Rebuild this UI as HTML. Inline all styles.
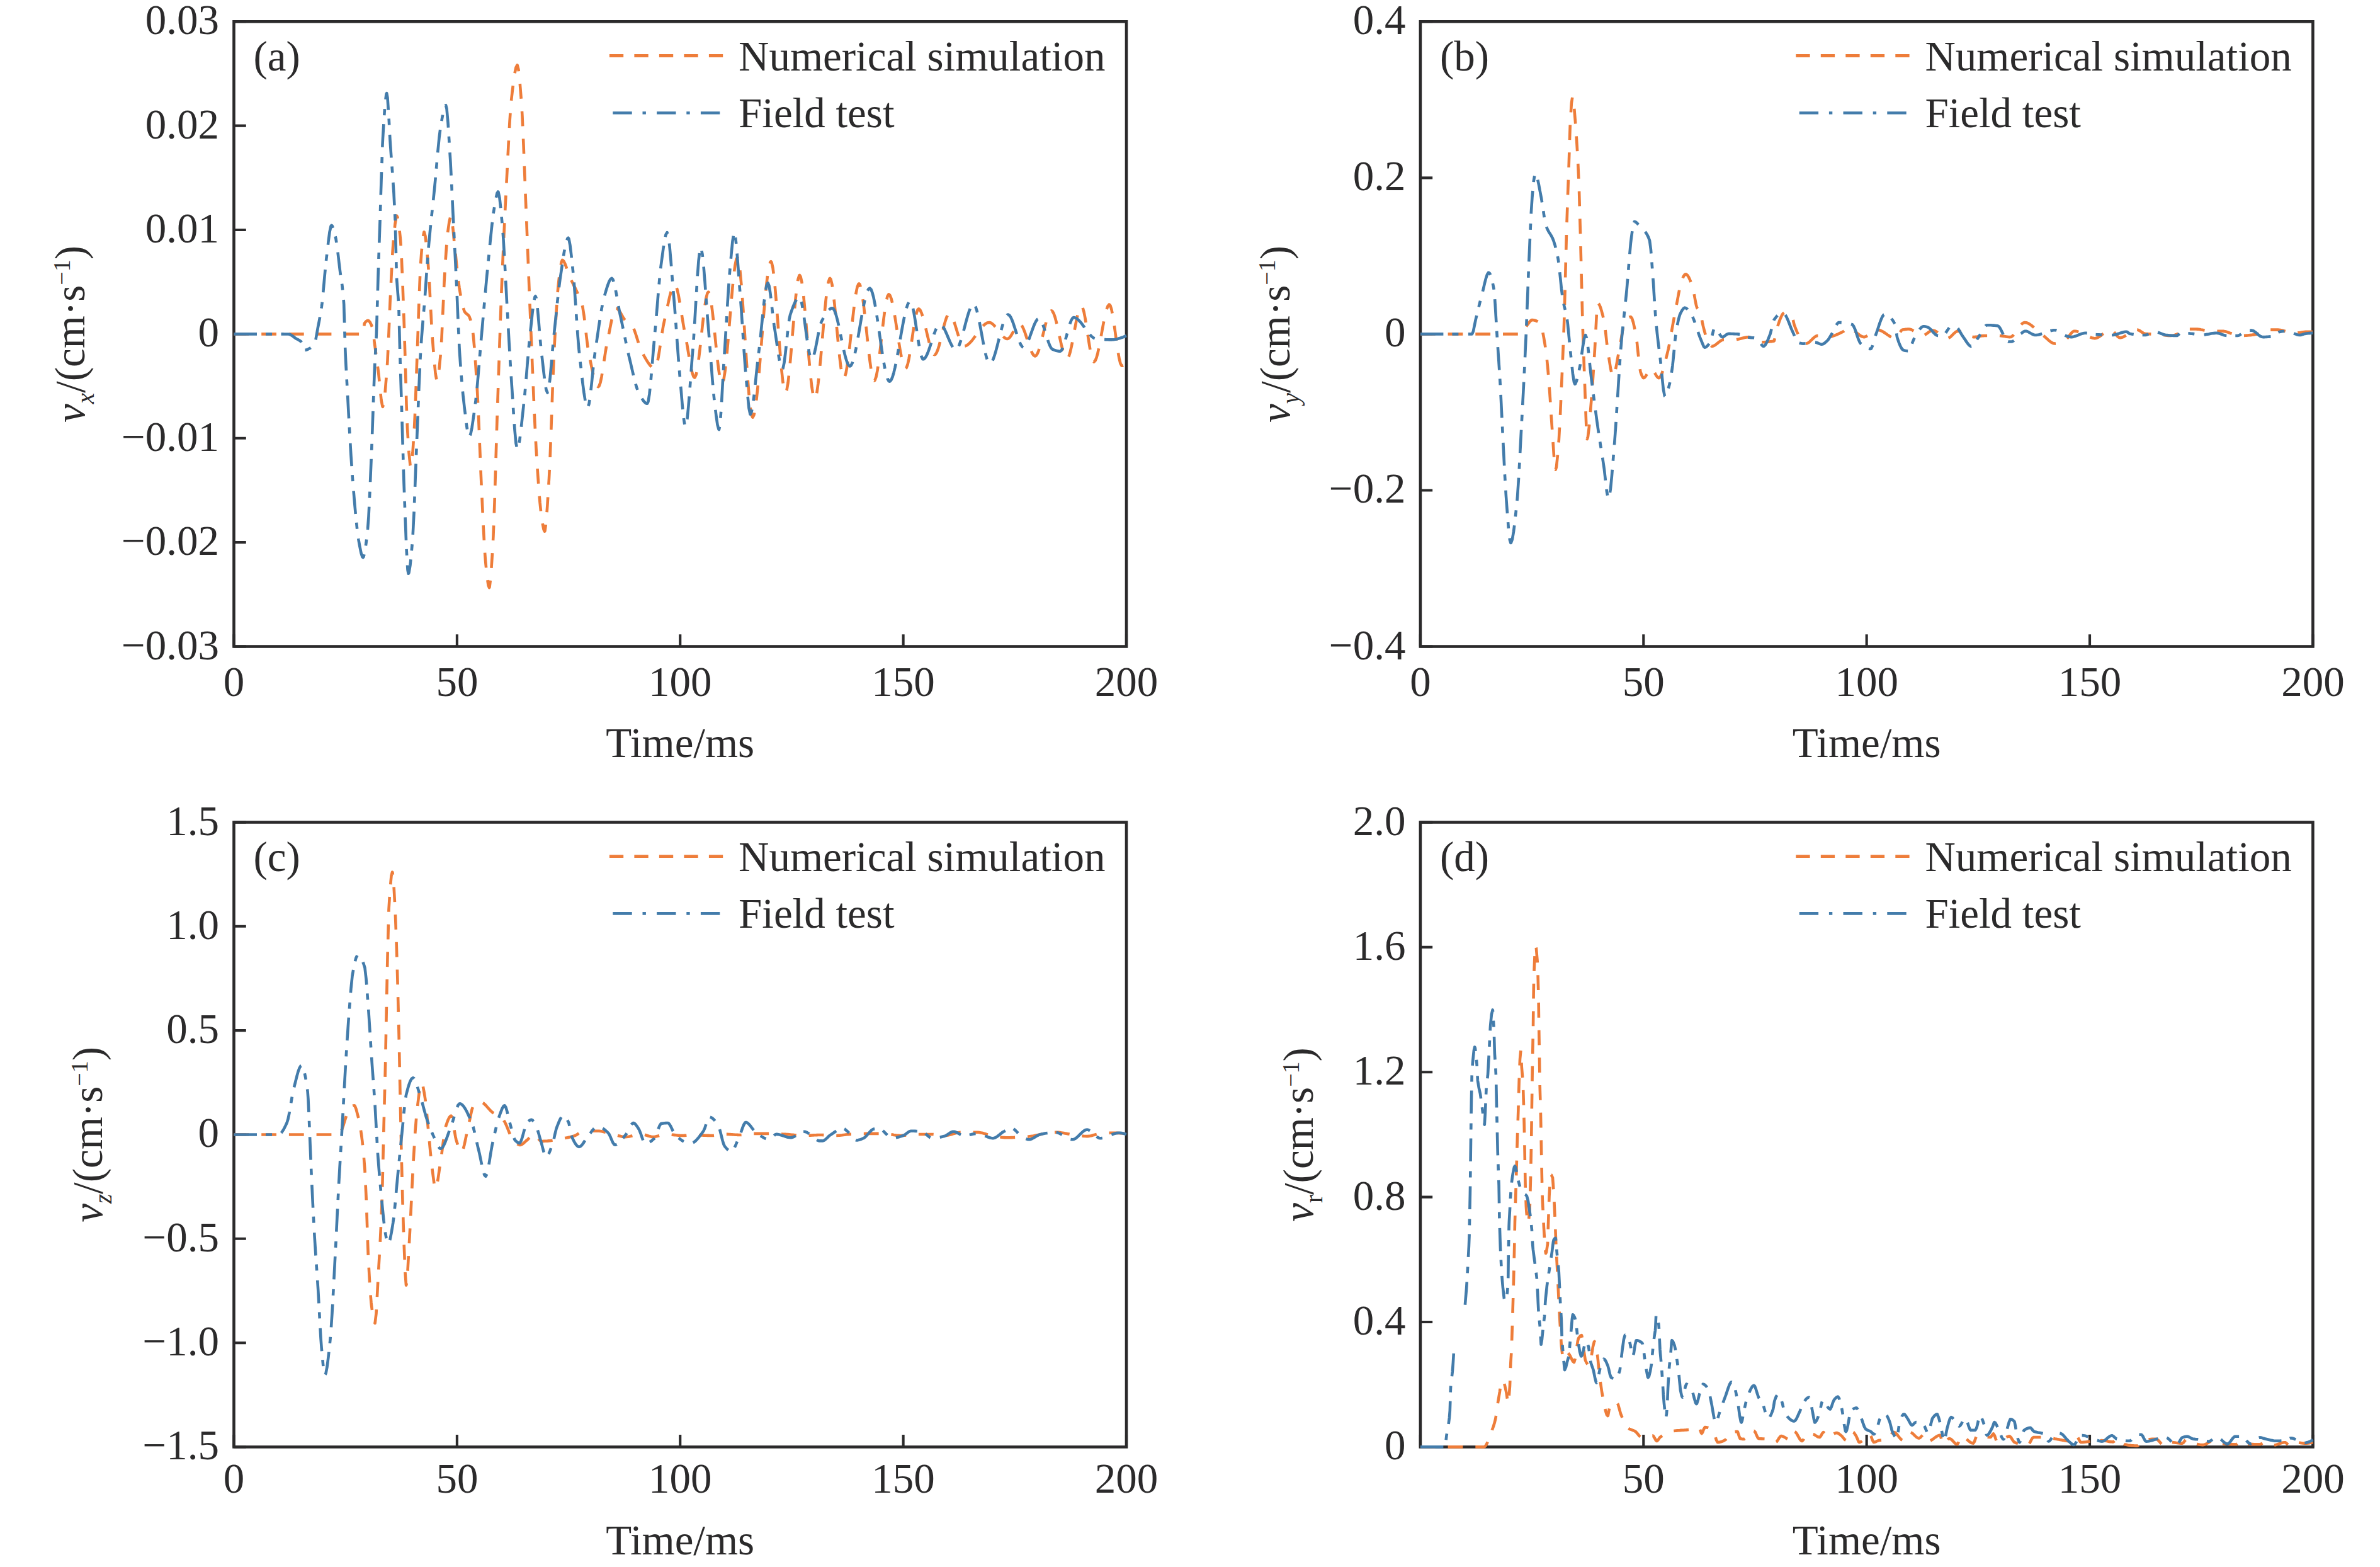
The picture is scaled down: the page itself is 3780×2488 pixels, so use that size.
<!DOCTYPE html><html><head><meta charset="utf-8"><style>html,body{margin:0;padding:0;background:#fff;}svg{display:block;}text{font-family:"Liberation Serif","Times New Roman",serif;fill:#2b2a2b;}</style></head><body>
<svg width="3780" height="2488" viewBox="0 0 3780 2488">
<rect width="3780" height="2488" fill="#fff"/>
<rect x="371.5" y="34.3" width="1417.5" height="992.2" fill="none" stroke="#2b2a2b" stroke-width="4.6"/>
<path d="M371.50,1026.50V1007.20M725.88,1026.50V1007.20M1080.25,1026.50V1007.20M1434.62,1026.50V1007.20M1789.00,1026.50V1007.20M371.50,1026.50H390.80M371.50,861.13H390.80M371.50,695.77H390.80M371.50,530.40H390.80M371.50,365.03H390.80M371.50,199.67H390.80M371.50,34.30H390.80" stroke="#2b2a2b" stroke-width="4.1" fill="none"/>
<g><polyline points="371.5,530.4 373.5,530.4 375.5,530.4 377.5,530.4 379.5,530.4 381.5,530.4 383.5,530.4 385.5,530.4 387.5,530.4 389.5,530.4 391.5,530.4 393.5,530.4 395.5,530.4 397.5,530.4 399.5,530.4 401.5,530.4 403.5,530.4 405.5,530.4 407.5,530.4 409.5,530.4 411.5,530.4 413.5,530.4 415.5,530.4 417.5,530.4 419.5,530.4 421.5,530.4 423.5,530.4 425.5,530.4 427.5,530.4 429.5,530.4 431.5,530.4 433.5,530.4 435.5,530.4 437.5,530.4 439.5,530.4 441.5,530.4 443.5,530.4 445.5,530.4 447.5,530.4 449.5,530.4 451.5,530.4 453.5,530.4 455.5,530.4 457.5,530.4 459.5,530.4 461.5,530.4 463.5,530.4 465.5,530.4 467.5,530.4 469.5,530.4 471.5,530.4 473.5,530.4 475.5,530.4 477.5,530.4 479.5,530.4 481.5,530.4 483.5,530.4 485.5,530.4 487.5,530.4 489.5,530.4 491.5,530.4 493.5,530.4 495.5,530.4 497.5,530.4 499.5,530.4 501.5,530.4 503.5,530.4 505.5,530.4 507.5,530.4 509.5,530.4 511.5,530.4 513.5,530.4 515.5,530.4 517.5,530.4 519.5,530.4 521.5,530.4 523.5,530.4 525.5,530.4 527.5,530.4 529.5,530.4 531.5,530.4 533.5,530.4 535.5,530.4 537.5,530.4 539.5,530.4 541.5,530.4 543.5,530.4 545.5,530.4 547.5,530.4 549.5,530.4 551.5,530.4 553.5,530.4 555.5,530.4 557.5,530.4 559.5,530.4 561.5,530.4 563.5,530.4 565.5,530.4 567.5,530.4 569.5,530.4 571.5,530.4 573.5,530.4 575.5,530.4 577.0,530.4 577.5,527.1 578.7,513.8 579.5,512.5 581.5,510.2 583.5,509.1 584.5,509.0 585.5,509.3 587.5,511.4 589.5,515.2 591.2,519.5 591.5,520.5 593.5,534.1 595.0,546.3 595.5,549.9 597.5,564.5 599.5,579.4 600.7,588.5 601.5,595.3 603.5,615.8 605.5,635.0 607.5,645.4 607.9,645.8 609.5,641.0 611.5,624.2 613.5,600.0 615.0,580.0 615.5,572.4 617.5,529.0 619.5,480.5 620.0,470.0 621.5,439.2 623.5,400.8 625.0,380.0 625.5,374.8 627.5,355.5 629.5,343.7 630.2,342.7 631.5,345.2 633.5,357.1 635.5,375.0 636.0,380.0 637.5,402.7 639.5,450.4 641.5,506.2 642.0,520.0 643.5,569.2 645.5,641.7 647.0,680.0 647.5,688.3 649.5,719.0 651.5,738.6 652.5,741.5 653.5,738.5 655.5,718.3 657.5,687.9 658.0,680.0 659.5,648.5 661.5,592.2 663.0,550.0 663.5,536.4 665.5,477.4 667.5,428.0 668.0,420.0 669.5,399.8 671.5,377.8 673.5,368.2 673.6,368.2 675.5,374.8 677.5,392.3 679.5,414.5 680.0,420.0 681.5,441.3 683.5,479.1 685.5,517.5 687.0,540.0 687.5,546.1 689.5,571.1 691.5,592.4 693.5,603.8 694.0,604.3 695.5,600.4 697.5,585.8 699.5,565.4 700.0,560.0 701.5,536.8 703.5,492.5 705.5,448.8 706.0,440.0 707.5,415.2 709.5,385.5 711.0,370.0 711.5,366.2 713.5,352.2 715.5,343.6 716.3,342.7 717.5,346.4 719.5,364.0 721.5,385.4 722.0,390.0 723.5,403.5 725.5,422.9 727.5,441.4 729.5,456.9 730.0,460.0 731.5,468.6 733.5,479.3 735.5,488.1 737.5,494.1 738.0,495.0 739.5,496.9 741.5,498.6 743.5,500.1 745.1,502.2 745.5,502.9 747.5,508.6 749.5,517.4 750.0,520.0 751.5,530.9 753.5,552.6 755.5,580.5 757.5,611.9 758.0,620.0 759.5,648.8 761.5,696.5 763.5,746.4 765.0,780.0 765.5,790.3 767.5,832.4 769.5,869.8 771.0,890.0 771.5,895.2 773.5,914.9 775.5,929.2 777.0,933.0 777.5,932.2 779.5,915.9 781.5,885.9 783.0,860.0 783.5,850.5 785.5,797.9 787.5,731.6 789.5,665.1 790.0,650.0 791.5,605.5 793.5,545.8 795.5,488.9 797.0,450.0 797.5,437.9 799.5,391.8 801.5,349.0 803.5,308.8 805.0,280.0 805.5,270.4 807.5,230.6 809.5,193.4 811.5,165.0 812.0,160.0 813.5,146.7 815.5,130.2 817.5,116.5 819.5,107.1 821.5,103.4 821.6,103.4 823.5,110.4 825.5,129.1 827.5,153.6 828.0,160.0 829.5,184.6 831.5,230.2 833.5,282.2 835.0,320.0 835.5,332.0 837.5,381.9 839.5,433.1 841.5,483.7 843.0,520.0 843.5,531.9 845.5,580.5 847.5,628.6 849.5,673.3 851.5,711.7 852.0,720.0 853.5,743.5 855.5,772.6 857.5,797.5 859.5,816.4 860.0,820.0 861.5,830.0 863.5,840.6 865.0,843.6 865.5,842.9 867.5,828.4 869.5,800.9 871.5,768.1 872.0,760.0 873.5,730.0 875.5,677.4 877.5,620.5 879.5,570.2 880.0,560.0 881.5,531.4 883.5,495.8 885.5,466.2 887.0,450.0 887.5,445.6 889.5,428.9 891.5,416.5 893.1,412.9 893.5,413.0 895.5,414.9 897.5,419.0 899.5,424.5 901.5,430.5 903.5,436.3 905.0,440.0 905.5,441.1 907.5,445.3 909.5,449.3 911.5,453.4 913.5,457.4 915.5,461.6 917.5,466.0 918.6,468.6 919.5,470.7 921.5,475.3 923.5,480.7 924.9,485.5 925.5,488.1 927.5,500.8 929.5,517.4 931.5,535.1 933.5,551.0 935.0,560.0 935.5,562.5 937.5,572.4 939.5,582.3 941.5,591.5 943.5,599.8 945.5,606.5 947.5,611.4 949.5,613.9 950.3,614.1 951.5,613.1 953.5,607.5 955.5,598.0 957.5,586.0 959.5,572.7 961.5,559.4 963.5,547.4 965.0,540.0 965.5,537.8 967.5,528.1 969.5,517.8 971.5,507.9 973.5,499.2 975.5,492.8 977.5,489.5 978.2,489.2 979.5,489.5 981.5,491.0 983.5,493.5 985.5,496.6 987.5,500.1 989.5,503.6 991.5,506.8 993.5,509.3 994.0,509.8 995.5,511.1 997.5,512.4 999.5,513.6 1001.5,515.0 1003.5,516.9 1003.7,517.1 1005.5,519.8 1007.5,524.3 1009.5,529.9 1011.5,536.2 1013.5,542.7 1015.5,549.0 1017.5,554.6 1019.5,559.1 1020.0,560.0 1021.5,562.6 1023.5,566.1 1025.5,569.6 1027.5,572.9 1029.5,576.0 1031.5,578.8 1033.5,581.2 1035.5,583.1 1037.5,584.4 1039.5,585.0 1040.1,585.0 1041.5,583.6 1043.5,577.6 1045.5,567.8 1047.5,555.6 1049.5,542.2 1051.5,529.0 1053.5,517.2 1055.0,510.0 1055.5,507.9 1057.5,498.9 1059.5,489.5 1061.5,480.2 1063.5,471.3 1065.5,463.6 1067.5,457.4 1069.5,453.2 1071.5,451.6 1071.6,451.6 1073.5,453.6 1075.5,459.5 1077.5,468.4 1079.5,479.4 1081.5,491.7 1083.5,504.5 1085.5,516.7 1087.5,527.6 1088.0,530.0 1089.5,537.6 1091.5,549.0 1093.5,561.2 1095.5,573.1 1097.5,583.8 1099.5,592.3 1101.5,597.9 1103.2,599.5 1103.5,599.4 1105.5,595.3 1107.5,585.7 1109.5,572.0 1111.5,555.4 1113.5,537.2 1115.5,518.6 1117.5,500.9 1119.5,485.3 1121.5,473.1 1123.5,465.5 1125.0,463.7 1125.5,463.9 1127.5,469.0 1129.5,479.8 1131.5,494.8 1133.5,512.8 1135.5,532.5 1137.5,552.4 1139.5,571.3 1141.5,587.7 1143.5,600.3 1145.5,607.8 1146.8,609.3 1147.5,608.8 1149.5,602.4 1151.5,589.7 1153.5,572.0 1155.5,550.7 1157.5,527.0 1159.5,502.4 1161.5,478.1 1163.5,455.6 1165.5,436.1 1167.5,421.0 1169.5,411.6 1171.1,409.1 1171.5,409.3 1173.5,416.1 1175.5,431.2 1177.5,452.9 1179.5,479.5 1181.5,509.3 1183.5,540.6 1185.5,571.6 1187.5,600.6 1189.5,625.9 1191.5,645.8 1193.5,658.6 1195.3,662.6 1195.5,662.6 1197.5,658.6 1199.5,648.6 1201.5,633.7 1203.5,614.7 1205.5,592.7 1207.5,568.6 1209.5,543.4 1211.5,517.9 1213.5,493.3 1215.5,470.5 1217.5,450.3 1219.5,433.9 1221.5,422.1 1223.5,415.9 1224.4,415.2 1225.5,416.6 1227.5,425.5 1229.5,441.2 1231.5,462.2 1233.5,486.8 1235.5,513.4 1237.5,540.4 1239.5,566.1 1241.5,588.9 1243.5,607.2 1245.5,619.4 1247.5,623.8 1249.5,619.6 1251.5,608.2 1253.5,591.0 1255.5,569.7 1257.5,545.9 1259.5,521.1 1261.5,496.8 1263.5,474.8 1265.5,456.4 1267.5,443.4 1269.5,437.3 1270.0,437.0 1271.5,439.2 1273.5,448.3 1275.5,463.2 1277.5,482.6 1279.5,505.0 1281.5,529.1 1283.5,553.6 1285.5,577.0 1287.5,598.1 1289.5,615.4 1291.5,627.5 1293.5,633.2 1294.0,633.5 1295.5,631.4 1297.5,622.6 1299.5,608.3 1301.5,589.7 1303.5,568.1 1305.5,544.8 1307.5,521.1 1309.5,498.4 1311.5,477.8 1313.5,460.8 1315.5,448.5 1317.5,442.4 1318.2,441.9 1319.5,443.5 1321.5,451.7 1323.5,465.5 1325.5,483.4 1327.5,504.0 1329.5,525.7 1331.5,547.2 1333.5,566.8 1335.5,583.3 1337.5,595.0 1339.5,600.6 1340.0,600.8 1341.5,599.2 1343.5,592.3 1345.5,581.2 1347.5,566.7 1349.5,549.8 1351.5,531.6 1353.5,513.1 1355.5,495.3 1357.5,479.1 1359.5,465.7 1361.5,455.9 1363.5,450.9 1364.3,450.4 1365.5,451.5 1367.5,457.7 1369.5,468.5 1371.5,482.9 1373.5,499.9 1375.5,518.4 1377.5,537.4 1379.5,555.8 1381.5,572.6 1383.5,586.9 1385.5,597.5 1387.5,603.5 1388.6,604.4 1389.5,603.8 1391.5,598.4 1393.5,588.4 1395.5,574.8 1397.5,558.7 1399.5,541.2 1401.5,523.4 1403.5,506.3 1405.5,491.1 1407.5,478.8 1409.5,470.5 1411.5,467.3 1411.6,467.3 1413.5,469.0 1415.5,474.1 1417.5,482.0 1419.5,492.1 1421.5,503.8 1423.5,516.6 1425.5,529.8 1427.5,542.8 1429.5,555.1 1431.5,566.0 1433.5,575.0 1435.5,581.4 1437.5,584.7 1438.3,585.0 1439.5,584.1 1441.5,578.9 1443.5,570.0 1445.5,558.4 1447.5,545.2 1449.5,531.5 1451.5,518.3 1453.5,506.5 1455.5,497.3 1457.5,491.7 1458.9,490.4 1459.5,490.5 1461.5,492.5 1463.5,496.7 1465.5,502.5 1467.5,509.7 1469.5,517.7 1471.5,526.2 1473.5,534.7 1475.5,542.8 1477.5,550.1 1479.5,556.2 1481.5,560.6 1483.5,562.9 1484.4,563.2 1485.5,562.8 1487.5,560.0 1489.5,555.2 1491.5,548.7 1493.5,541.1 1495.5,532.9 1497.5,524.5 1499.5,516.5 1501.5,509.4 1503.5,503.6 1505.5,499.6 1507.5,498.0 1507.7,498.0 1509.5,498.9 1511.5,501.7 1513.5,506.0 1515.5,511.5 1517.5,517.7 1519.5,524.3 1521.5,530.9 1523.5,537.0 1525.5,542.3 1527.5,546.5 1529.5,549.0 1531.0,549.6 1531.5,549.6 1533.5,549.2 1535.5,548.3 1537.5,546.9 1539.5,545.2 1541.5,543.2 1543.5,540.9 1545.5,538.4 1547.5,535.7 1549.5,532.9 1551.5,530.1 1553.5,527.3 1555.5,524.6 1557.5,522.0 1559.5,519.5 1561.5,517.4 1563.5,515.5 1565.5,513.9 1567.5,512.8 1569.5,512.2 1571.0,512.0 1571.5,512.0 1573.5,512.5 1575.5,513.7 1577.5,515.3 1579.5,517.4 1581.5,519.8 1583.5,522.3 1585.5,525.0 1587.5,527.7 1589.5,530.2 1591.5,532.6 1593.5,534.7 1595.5,536.3 1597.5,537.5 1599.5,538.0 1600.0,538.0 1601.5,537.6 1603.5,535.9 1605.5,533.3 1607.5,530.0 1609.5,526.4 1611.5,522.8 1613.5,519.4 1615.5,516.6 1617.5,514.7 1619.4,514.1 1619.5,514.1 1621.5,515.2 1623.5,517.9 1625.5,522.0 1627.5,527.1 1629.5,532.9 1631.5,539.1 1633.5,545.3 1635.5,551.3 1637.5,556.5 1639.5,560.9 1641.5,563.9 1643.5,565.3 1644.0,565.4 1645.5,564.7 1647.5,561.8 1649.5,557.1 1651.5,550.9 1653.5,543.6 1655.5,535.6 1657.5,527.3 1659.5,519.1 1661.5,511.5 1663.5,504.6 1665.5,499.1 1667.5,495.3 1669.5,493.5 1670.0,493.4 1671.5,494.2 1673.5,497.6 1675.5,503.2 1677.5,510.5 1679.5,519.0 1681.5,528.2 1683.5,537.5 1685.5,546.6 1687.5,554.8 1689.5,561.7 1691.5,566.8 1693.5,569.6 1694.5,570.0 1695.5,569.5 1697.5,566.1 1699.5,559.8 1701.5,551.3 1703.5,541.4 1705.5,530.6 1707.5,519.7 1709.5,509.3 1711.5,500.0 1713.5,492.6 1715.5,487.6 1717.5,485.8 1719.5,488.3 1721.5,495.1 1723.5,505.1 1725.5,517.3 1727.5,530.5 1729.5,543.7 1731.5,555.8 1733.5,565.7 1735.5,572.3 1737.4,574.6 1737.5,574.6 1739.5,572.7 1741.5,567.8 1743.5,560.5 1745.5,551.3 1747.5,540.9 1749.5,529.9 1751.5,518.8 1753.5,508.3 1755.5,498.9 1757.5,491.3 1759.5,486.0 1761.5,483.6 1761.9,483.5 1763.5,485.3 1765.5,491.9 1767.5,502.3 1769.5,515.2 1771.5,529.5 1773.5,544.1 1775.5,557.6 1777.5,569.0 1779.5,577.1 1781.5,580.6 1781.8,580.7 1783.5,580.6 1785.5,579.9 1787.5,577.8 1789.0,575.0" fill="none" stroke="#ee7d3a" stroke-width="4.6" stroke-dasharray="23.8 19.9" stroke-linejoin="round"/><polyline points="371.5,530.4 373.5,530.4 375.5,530.4 377.5,530.4 379.5,530.4 381.5,530.4 383.5,530.4 385.5,530.4 387.5,530.4 389.5,530.4 391.5,530.4 393.5,530.4 395.5,530.4 397.5,530.4 399.5,530.4 401.5,530.4 403.5,530.4 405.5,530.4 407.5,530.4 409.5,530.4 411.5,530.4 413.5,530.4 415.5,530.4 417.5,530.4 419.5,530.4 421.5,530.4 423.5,530.4 425.5,530.4 427.5,530.4 429.5,530.4 431.5,530.4 432.0,530.4 433.5,530.0 435.5,528.9 437.5,528.0 438.0,528.0 439.5,528.4 441.5,529.5 443.5,530.3 444.0,530.4 445.5,530.4 447.5,530.4 449.5,530.4 451.5,530.5 453.5,530.5 455.5,530.5 457.5,530.5 458.0,530.5 459.5,530.7 461.5,531.5 463.5,532.7 465.5,534.1 467.5,535.6 469.5,537.1 470.6,537.8 471.5,538.3 473.5,539.3 475.5,540.4 477.5,541.8 478.2,542.5 479.5,545.0 481.5,551.2 483.5,555.7 484.0,555.9 485.5,555.8 487.5,555.2 489.5,554.3 491.5,553.3 492.0,553.0 493.5,552.2 495.5,550.7 497.5,548.8 499.3,546.3 499.5,545.9 501.5,538.8 503.5,527.8 505.0,519.5 505.5,517.0 507.5,506.8 509.5,495.6 510.8,487.0 511.5,481.5 513.5,461.8 515.5,439.3 517.5,418.2 518.4,410.4 519.5,401.2 521.5,383.8 523.5,368.6 525.5,359.2 526.5,357.8 527.5,358.5 529.5,363.2 531.5,370.6 532.8,376.0 533.5,379.3 535.5,392.4 537.5,408.8 539.5,425.9 540.0,430.0 541.5,440.5 543.5,453.7 545.5,473.4 546.2,483.2 547.5,529.1 548.1,550.2 549.5,580.6 551.0,607.6 551.5,616.9 553.5,654.1 555.5,690.4 557.5,724.1 559.5,753.5 560.0,760.0 561.5,778.7 563.5,802.6 565.5,824.2 567.5,842.7 569.5,857.1 570.0,860.0 571.5,868.2 573.5,878.0 575.5,884.2 576.5,885.1 577.5,884.0 579.5,876.0 581.5,862.2 583.5,844.7 584.0,840.0 585.5,819.8 587.5,779.1 589.5,731.7 590.0,720.0 591.5,680.7 593.5,622.8 595.0,584.6 595.5,574.4 597.5,538.1 597.9,529.0 599.5,476.1 600.7,433.4 601.5,409.2 603.5,351.9 603.6,349.0 605.5,287.6 607.5,229.8 608.0,220.0 609.5,194.7 611.5,165.8 613.5,149.4 614.2,148.1 615.5,155.2 617.5,185.5 619.5,222.1 620.0,230.0 621.5,250.8 623.5,277.1 625.5,307.1 627.5,346.7 627.6,349.0 629.5,423.9 630.2,444.8 631.5,461.4 633.0,480.0 633.5,493.2 635.2,560.0 635.5,570.1 637.5,634.0 638.0,650.0 639.5,701.2 641.5,766.6 642.0,780.0 643.5,819.7 645.5,870.7 647.5,904.9 648.6,910.7 649.5,909.2 651.5,897.3 653.5,877.3 655.0,860.0 655.5,853.4 657.5,814.5 659.5,763.8 661.5,711.9 662.0,700.0 663.5,663.3 665.5,612.8 667.5,568.9 668.0,560.0 669.5,537.3 671.5,512.1 673.5,488.9 675.0,470.0 675.5,463.1 677.5,434.0 679.5,406.2 680.0,400.0 681.5,383.0 683.5,362.2 685.5,342.9 687.5,324.1 689.5,305.0 690.0,300.0 691.5,284.2 693.5,261.6 695.5,239.1 697.5,218.9 699.5,203.1 700.0,200.0 701.5,191.4 703.5,180.5 705.5,171.9 707.5,167.5 708.1,167.2 709.5,172.6 711.5,194.8 713.5,226.0 715.0,250.0 715.5,258.1 717.5,297.0 719.5,339.8 720.0,350.0 721.5,379.7 723.5,419.3 725.0,450.0 725.5,460.9 727.5,508.6 729.5,551.7 730.0,560.0 731.5,581.6 733.5,606.7 735.5,628.0 737.5,646.0 738.0,650.0 739.5,662.4 741.5,678.5 743.5,690.3 745.1,693.7 745.5,693.6 747.5,689.0 749.5,679.2 751.5,666.0 753.5,651.2 755.0,640.0 755.5,636.2 757.5,617.8 759.5,595.6 761.5,571.5 763.5,547.2 765.0,530.0 765.5,524.5 767.5,502.0 769.5,479.3 771.5,456.9 773.5,435.3 775.0,420.0 775.5,415.0 777.5,394.7 779.5,374.5 781.5,355.8 783.5,339.7 785.0,330.0 785.5,327.1 787.5,315.6 789.5,306.8 791.0,304.4 791.5,304.9 793.5,314.4 795.5,332.6 797.5,354.5 798.0,360.0 799.5,379.9 801.5,414.5 803.5,452.7 805.0,480.0 805.5,488.7 807.5,524.6 809.5,560.3 811.5,592.7 812.0,600.0 813.5,622.4 815.5,653.9 817.5,682.8 819.5,704.0 821.5,712.8 821.6,712.8 823.5,708.8 825.5,697.6 827.5,681.5 829.5,663.0 831.5,644.4 832.0,640.0 833.5,625.7 835.5,603.2 837.5,578.9 839.5,555.2 841.5,534.5 842.0,530.0 843.5,516.3 845.5,497.3 847.5,481.1 849.5,471.5 850.4,470.3 851.5,472.7 853.5,487.0 855.5,509.5 857.5,534.3 859.5,555.8 860.0,560.0 861.5,572.5 863.5,590.4 865.5,606.8 867.5,618.8 869.5,623.5 871.5,617.4 873.5,601.6 875.5,580.0 877.5,556.4 879.5,534.7 880.0,530.0 881.5,516.1 883.5,496.6 885.5,477.1 887.5,459.0 889.5,443.4 890.0,440.0 891.5,430.0 893.5,416.3 895.5,403.2 897.5,391.8 899.5,383.2 901.5,378.4 902.5,377.7 903.5,379.2 905.5,389.7 907.5,406.5 909.5,425.4 910.0,430.0 911.5,445.9 913.5,472.9 915.5,502.7 917.5,531.5 919.5,555.3 920.0,560.0 921.5,573.4 923.5,591.5 925.5,608.7 927.5,623.9 929.5,636.1 931.5,644.1 933.4,646.8 933.5,646.8 935.5,641.4 937.5,628.2 939.5,610.2 941.5,590.4 943.5,571.6 945.0,560.0 945.5,556.6 947.5,542.9 949.5,529.0 951.5,515.4 953.5,502.4 955.5,490.5 957.5,480.2 959.5,471.8 960.0,470.0 961.5,464.9 963.5,458.2 965.5,452.0 967.5,446.9 969.5,443.4 971.5,441.9 971.7,441.9 973.5,443.9 975.5,449.9 977.5,459.0 979.5,469.9 981.5,481.5 983.5,492.6 985.0,500.0 985.5,502.3 987.5,511.6 989.5,521.2 991.5,530.9 993.5,540.6 995.5,550.1 997.5,559.3 999.5,567.9 1000.0,570.0 1001.5,576.3 1003.5,584.9 1005.5,593.5 1007.5,601.8 1009.5,609.5 1011.5,616.3 1013.5,621.8 1015.0,625.0 1015.5,625.9 1017.5,629.5 1019.5,632.8 1021.5,635.8 1023.5,638.3 1025.5,640.0 1027.5,640.8 1028.0,640.8 1029.5,637.7 1031.5,625.3 1033.5,606.1 1035.5,582.8 1037.5,558.2 1039.5,535.2 1040.0,530.0 1041.5,513.8 1043.5,489.8 1045.5,465.3 1047.5,442.6 1049.5,423.8 1050.0,420.0 1051.5,409.0 1053.5,394.3 1055.5,381.6 1057.5,372.5 1059.5,369.1 1061.5,375.3 1063.5,391.4 1065.5,414.0 1067.5,439.5 1069.5,464.3 1070.0,470.0 1071.5,487.9 1073.5,514.6 1075.5,542.6 1077.5,570.0 1079.5,594.5 1080.0,600.0 1081.5,617.0 1083.5,641.0 1085.5,661.9 1087.5,675.0 1088.6,677.2 1089.5,675.9 1091.5,664.6 1093.5,644.6 1095.5,619.2 1097.5,591.8 1099.5,565.9 1100.0,560.0 1101.5,540.4 1103.5,508.6 1105.5,474.3 1107.5,441.5 1109.5,414.5 1111.5,397.3 1112.9,393.4 1113.5,394.0 1115.5,403.5 1117.5,422.2 1119.5,447.0 1121.5,474.5 1123.5,501.7 1125.0,520.0 1125.5,525.7 1127.5,550.8 1129.5,577.5 1131.5,603.5 1133.5,626.3 1135.0,640.0 1135.5,644.0 1137.5,660.4 1139.5,674.3 1141.5,681.6 1142.0,682.0 1143.5,675.0 1145.5,648.9 1147.5,613.1 1149.5,577.6 1150.0,570.0 1151.5,547.2 1153.5,514.6 1155.5,481.8 1157.5,451.2 1159.5,425.4 1160.0,420.0 1161.5,403.6 1163.5,382.8 1165.5,370.2 1166.2,369.1 1167.5,372.5 1169.5,388.7 1171.5,413.3 1173.5,440.7 1175.0,460.0 1175.5,466.1 1177.5,493.6 1179.5,524.0 1181.5,554.4 1183.5,582.4 1185.0,600.0 1185.5,605.4 1187.5,628.5 1189.5,648.3 1191.5,657.7 1191.7,657.8 1193.5,654.5 1195.5,644.2 1197.5,628.9 1199.5,610.5 1201.5,590.9 1203.5,572.3 1205.0,560.0 1205.5,556.1 1207.5,538.5 1209.5,518.8 1211.5,498.7 1213.5,480.0 1215.5,464.3 1217.5,453.5 1219.5,449.2 1219.6,449.2 1221.5,453.7 1223.5,466.2 1225.5,483.1 1227.5,501.1 1229.5,516.8 1230.0,520.0 1231.5,529.5 1233.5,543.4 1235.5,557.2 1237.5,569.8 1239.5,579.6 1241.5,585.3 1242.6,586.2 1243.5,585.1 1245.5,575.8 1247.5,560.0 1249.5,541.0 1251.5,522.2 1253.5,507.0 1255.0,500.0 1255.5,498.5 1257.5,492.7 1259.5,487.2 1261.5,482.4 1263.5,478.3 1265.5,475.1 1267.5,473.0 1269.5,472.2 1269.7,472.2 1271.5,474.6 1273.5,482.0 1275.5,493.3 1277.5,507.1 1279.5,522.1 1281.5,537.0 1283.5,550.6 1285.5,561.5 1287.5,568.5 1289.1,570.4 1289.5,570.3 1291.5,567.3 1293.5,560.7 1295.5,551.8 1297.5,541.6 1299.5,531.1 1301.5,521.5 1303.5,513.8 1305.0,510.0 1305.5,509.1 1307.5,505.4 1309.5,501.8 1311.5,498.5 1313.5,495.6 1315.5,493.1 1317.5,491.1 1319.5,489.8 1321.5,489.2 1321.9,489.2 1323.5,490.1 1325.5,493.4 1327.5,498.9 1329.5,506.0 1331.5,514.4 1333.5,523.8 1335.5,533.6 1337.5,543.4 1339.5,553.0 1341.5,561.8 1343.5,569.4 1345.5,575.5 1347.5,579.6 1349.5,581.4 1349.8,581.4 1351.5,580.4 1353.5,576.7 1355.5,570.7 1357.5,562.8 1359.5,553.4 1361.5,542.8 1363.5,531.5 1365.5,519.8 1367.5,508.1 1369.5,496.7 1371.5,486.1 1373.5,476.6 1375.5,468.6 1377.5,462.6 1379.5,458.8 1381.3,457.6 1381.5,457.6 1383.5,459.7 1385.5,464.8 1387.5,472.5 1389.5,482.5 1391.5,494.1 1393.5,507.0 1395.5,520.7 1397.5,534.8 1399.5,548.7 1401.5,562.1 1403.5,574.5 1405.5,585.4 1407.5,594.4 1409.5,601.1 1411.5,604.9 1412.8,605.6 1413.5,605.4 1415.5,603.2 1417.5,598.5 1419.5,591.8 1421.5,583.5 1423.5,573.8 1425.5,563.1 1427.5,551.8 1429.5,540.2 1431.5,528.6 1433.5,517.5 1435.5,507.1 1437.5,497.8 1439.5,489.9 1441.5,483.8 1443.5,479.8 1445.5,478.3 1445.6,478.3 1447.5,480.5 1449.5,487.0 1451.5,496.6 1453.5,508.5 1455.5,521.7 1457.5,535.0 1459.5,547.5 1461.5,558.2 1463.5,566.1 1465.5,570.1 1466.2,570.4 1467.5,570.0 1469.5,568.1 1471.5,564.7 1473.5,560.2 1475.5,554.8 1477.5,548.9 1479.5,542.7 1481.5,536.5 1483.5,530.6 1485.5,525.2 1487.5,520.6 1489.5,517.2 1491.5,515.1 1492.9,514.7 1493.5,514.8 1495.5,515.9 1497.5,518.3 1499.5,521.6 1501.5,525.7 1503.5,530.2 1505.5,535.0 1507.5,539.7 1509.5,544.3 1511.5,548.3 1513.5,551.6 1515.5,553.9 1517.5,555.0 1518.0,555.0 1519.5,554.4 1521.5,552.0 1523.5,547.9 1525.5,542.4 1527.5,536.0 1529.5,528.9 1531.5,521.3 1533.5,513.7 1535.5,506.3 1537.5,499.4 1539.5,493.3 1541.5,488.4 1543.5,485.0 1545.5,483.2 1546.2,483.1 1547.5,483.8 1549.5,487.3 1551.5,493.4 1553.5,501.5 1555.5,511.1 1557.5,521.6 1559.5,532.5 1561.5,543.4 1563.5,553.6 1565.5,562.6 1567.5,570.0 1569.5,575.1 1571.5,577.5 1572.0,577.6 1573.5,577.0 1575.5,574.5 1577.5,570.2 1579.5,564.6 1581.5,557.9 1583.5,550.5 1585.5,542.6 1587.5,534.5 1589.5,526.6 1591.5,519.2 1593.5,512.5 1595.5,506.9 1597.5,502.6 1599.5,500.1 1601.0,499.5 1601.5,499.6 1603.5,501.0 1605.5,504.1 1607.5,508.5 1609.5,513.9 1611.5,519.9 1613.5,526.2 1615.5,532.5 1617.5,538.4 1619.5,543.6 1621.5,547.7 1623.5,550.5 1625.5,551.6 1625.6,551.6 1627.5,550.8 1629.5,548.5 1631.5,544.8 1633.5,540.3 1635.5,535.1 1637.5,529.5 1639.5,523.9 1641.5,518.5 1643.5,513.7 1645.5,509.8 1647.5,507.0 1649.5,505.8 1650.0,505.7 1651.5,506.3 1653.5,509.0 1655.5,513.2 1657.5,518.7 1659.5,524.9 1661.5,531.5 1663.5,538.0 1665.5,544.0 1667.5,549.0 1669.5,552.7 1671.5,554.6 1673.5,555.4 1675.5,556.1 1677.5,556.8 1679.5,557.2 1681.5,557.6 1683.5,557.7 1683.8,557.7 1685.5,556.7 1687.5,553.4 1689.5,548.3 1691.5,541.9 1693.5,534.6 1695.5,527.2 1697.5,519.9 1699.5,513.5 1701.5,508.4 1703.5,505.1 1705.2,504.1 1705.5,504.1 1707.5,504.5 1709.5,505.4 1711.5,506.8 1713.5,508.7 1715.5,510.8 1717.5,513.2 1719.5,515.9 1721.5,518.6 1723.5,521.4 1725.5,524.2 1727.5,526.9 1729.5,529.5 1731.5,531.9 1733.5,533.9 1735.5,535.6 1737.5,536.9 1739.5,537.6 1740.4,537.8 1741.5,537.9 1743.5,538.1 1745.5,538.3 1747.5,538.5 1749.5,538.7 1751.5,538.9 1753.5,539.0 1755.5,539.1 1757.5,539.2 1759.5,539.3 1761.5,539.4 1763.5,539.4 1765.0,539.4 1765.5,539.4 1767.5,539.3 1769.5,539.1 1771.5,538.8 1773.5,538.4 1775.5,537.9 1777.5,537.3 1779.5,536.7 1781.5,536.0 1783.5,535.3 1785.5,534.5 1787.5,533.6 1789.0,533.0" fill="none" stroke="#437cab" stroke-width="4.6" stroke-dasharray="36.5 14 10 15.5" stroke-linejoin="round"/></g>
<text x="371.50" y="1105.1" font-size="67" text-anchor="middle">0</text>
<text x="725.88" y="1105.1" font-size="67" text-anchor="middle">50</text>
<text x="1080.25" y="1105.1" font-size="67" text-anchor="middle">100</text>
<text x="1434.62" y="1105.1" font-size="67" text-anchor="middle">150</text>
<text x="1789.00" y="1105.1" font-size="67" text-anchor="middle">200</text>
<text x="348.00" y="1046.50" font-size="67" text-anchor="end">−0.03</text>
<text x="348.00" y="881.13" font-size="67" text-anchor="end">−0.02</text>
<text x="348.00" y="715.77" font-size="67" text-anchor="end">−0.01</text>
<text x="348.00" y="550.40" font-size="67" text-anchor="end">0</text>
<text x="348.00" y="385.03" font-size="67" text-anchor="end">0.01</text>
<text x="348.00" y="219.67" font-size="67" text-anchor="end">0.02</text>
<text x="348.00" y="54.30" font-size="67" text-anchor="end">0.03</text>
<text x="1080.25" y="1202.1" font-size="67" text-anchor="middle">Time/ms</text>
<text transform="translate(133.50,530.40) rotate(-90)" font-size="67" text-anchor="middle"><tspan font-style="italic">v</tspan><tspan font-size="39" dy="15" font-style="italic">x</tspan><tspan dy="-15">/(cm·s</tspan><tspan font-size="38" dy="-22.6">−1</tspan><tspan dy="22.6">)</tspan></text>
<text x="402.5" y="112.00" font-size="67">(a)</text>
<path d="M967.9,88.5H1149.1" stroke="#ee7d3a" stroke-width="4.8" stroke-dasharray="22.3 17.2"/>
<path d="M973.3,179.2H1149.1" stroke="#437cab" stroke-width="4.6" stroke-dasharray="30.4 16.8 5.4 17.2"/>
<text x="1173.0" y="112.0" font-size="67">Numerical simulation</text>
<text x="1173.0" y="201.5" font-size="67">Field test</text>
<rect x="2255.9" y="34.3" width="1417.5" height="992.2" fill="none" stroke="#2b2a2b" stroke-width="4.6"/>
<path d="M2255.90,1026.50V1007.20M2610.28,1026.50V1007.20M2964.65,1026.50V1007.20M3319.03,1026.50V1007.20M3673.40,1026.50V1007.20M2255.90,1026.50H2275.20M2255.90,778.45H2275.20M2255.90,530.40H2275.20M2255.90,282.35H2275.20M2255.90,34.30H2275.20" stroke="#2b2a2b" stroke-width="4.1" fill="none"/>
<g><polyline points="2255.9,530.4 2257.9,530.4 2259.9,530.4 2261.9,530.4 2263.9,530.4 2265.9,530.4 2267.9,530.4 2269.9,530.4 2271.9,530.4 2273.9,530.4 2275.9,530.4 2277.9,530.4 2279.9,530.4 2281.9,530.4 2283.9,530.4 2285.9,530.4 2287.9,530.4 2289.9,530.4 2291.9,530.4 2293.9,530.4 2295.9,530.4 2297.9,530.4 2299.9,530.4 2301.9,530.4 2303.9,530.4 2305.9,530.4 2307.9,530.4 2309.9,530.4 2311.9,530.4 2313.9,530.4 2315.9,530.4 2317.9,530.4 2319.9,530.4 2321.9,530.4 2323.9,530.4 2325.9,530.4 2327.9,530.4 2329.9,530.4 2331.9,530.4 2333.9,530.4 2335.9,530.4 2337.9,530.4 2339.9,530.4 2341.9,530.4 2343.9,530.4 2345.9,530.4 2347.9,530.4 2349.9,530.4 2351.9,530.4 2353.9,530.4 2355.9,530.4 2357.9,530.4 2359.9,530.4 2361.9,530.4 2363.9,530.4 2365.9,530.4 2367.9,530.4 2369.9,530.4 2371.9,530.4 2373.9,530.4 2375.9,530.4 2377.9,530.4 2379.9,530.4 2381.9,530.4 2383.9,530.4 2385.9,530.4 2387.9,530.4 2389.9,530.4 2391.9,530.4 2393.9,530.4 2395.9,530.4 2397.9,530.4 2399.9,530.4 2401.9,530.4 2403.9,530.4 2405.9,530.4 2407.9,530.4 2409.9,530.4 2411.9,530.4 2413.9,530.4 2415.9,530.4 2416.0,530.4 2417.9,529.3 2419.9,526.5 2421.9,522.7 2423.9,518.7 2425.9,515.5 2426.1,515.3 2427.9,513.0 2429.9,510.4 2431.9,508.5 2433.4,508.0 2433.9,508.0 2435.9,508.2 2437.9,508.7 2439.9,509.5 2441.9,510.4 2443.9,511.7 2445.5,512.8 2445.9,513.2 2447.9,517.6 2449.9,525.5 2451.9,536.0 2453.9,548.1 2455.2,556.5 2455.9,561.6 2457.9,580.7 2459.9,603.8 2460.0,605.0 2461.9,631.9 2463.9,663.5 2464.9,677.7 2465.9,692.1 2467.9,722.6 2469.9,743.3 2470.7,745.6 2471.9,741.8 2473.9,723.1 2475.6,702.0 2475.9,698.0 2477.9,661.7 2479.9,616.3 2480.4,605.0 2481.9,570.9 2483.9,519.6 2484.3,508.0 2485.9,450.5 2487.9,372.6 2488.2,362.5 2489.9,312.8 2491.6,265.5 2491.9,256.2 2493.9,194.5 2494.0,192.7 2495.9,163.7 2497.4,154.0 2497.9,154.6 2499.9,167.9 2501.9,192.3 2503.7,217.0 2503.9,219.7 2505.9,252.5 2507.6,289.7 2507.9,297.6 2509.9,367.9 2511.0,411.0 2511.9,447.9 2513.4,508.0 2513.9,524.3 2515.9,581.5 2516.8,605.0 2517.9,637.5 2519.9,690.4 2520.7,697.1 2521.9,694.0 2523.9,678.0 2525.9,654.2 2527.9,629.2 2529.9,601.9 2531.9,570.5 2532.8,556.5 2533.9,536.5 2535.9,497.0 2537.6,481.3 2537.9,481.3 2539.9,483.4 2541.9,487.9 2543.9,494.5 2545.9,502.2 2547.3,508.0 2547.9,511.0 2549.9,525.8 2551.9,543.9 2553.9,559.4 2554.0,560.0 2555.9,572.0 2557.9,584.4 2559.9,593.9 2561.9,597.7 2563.9,594.7 2565.9,586.9 2567.9,576.4 2569.9,565.2 2571.6,556.5 2571.9,555.1 2573.9,543.9 2575.9,531.3 2577.9,519.6 2579.9,511.0 2581.3,508.0 2581.9,507.4 2583.9,505.7 2585.9,504.3 2587.9,503.4 2589.9,503.1 2590.0,503.1 2591.9,505.3 2593.9,511.5 2595.9,520.3 2597.9,530.2 2598.3,532.2 2599.9,543.5 2601.9,563.0 2603.9,581.5 2605.5,590.4 2605.9,591.6 2607.9,597.0 2609.9,600.0 2610.4,600.1 2611.9,599.5 2613.9,597.2 2615.9,593.8 2617.9,590.3 2619.9,587.3 2621.9,585.7 2622.5,585.6 2623.9,586.1 2625.9,588.4 2627.9,591.7 2629.9,595.2 2631.9,598.3 2633.9,600.0 2634.6,600.1 2635.9,599.5 2637.9,596.7 2639.9,591.9 2641.9,585.5 2643.9,578.1 2645.9,570.0 2647.9,561.8 2649.2,556.5 2649.9,553.5 2651.9,543.4 2653.9,531.9 2655.9,520.4 2656.4,517.7 2657.9,509.6 2659.9,498.8 2661.9,488.1 2663.7,478.9 2663.9,477.9 2665.9,467.2 2667.9,456.7 2669.9,448.1 2671.0,444.9 2671.9,442.9 2673.9,438.7 2675.9,435.9 2677.3,435.2 2677.9,435.3 2679.9,436.8 2681.9,439.8 2683.9,444.0 2685.9,449.0 2687.9,454.3 2688.0,454.6 2689.9,462.5 2691.9,473.9 2693.9,484.4 2695.2,488.6 2695.9,489.8 2697.9,492.2 2699.9,495.0 2700.0,495.2 2701.9,502.3 2703.9,512.7 2705.0,517.7 2705.9,521.2 2707.9,528.8 2709.9,534.8 2710.0,535.0 2711.9,539.5 2713.9,543.9 2715.9,547.4 2717.9,549.5 2718.9,549.8 2719.9,549.7 2721.9,549.1 2723.9,548.0 2725.9,546.5 2727.9,544.9 2729.9,543.3 2731.9,541.7 2733.9,540.5 2735.9,539.6 2737.8,539.3 2737.9,539.3 2739.9,539.3 2741.9,539.3 2743.9,539.3 2745.9,539.3 2747.9,539.3 2749.9,539.3 2751.9,539.3 2753.9,539.3 2754.6,539.3 2755.9,539.3 2757.9,539.1 2759.9,538.7 2761.9,538.3 2763.9,537.8 2765.9,537.3 2767.9,536.7 2769.9,536.2 2771.9,535.8 2773.9,535.4 2775.9,535.2 2777.7,535.1 2777.9,535.1 2779.9,535.8 2781.9,537.3 2783.9,539.2 2785.9,541.1 2787.9,542.7 2789.9,543.5 2790.3,543.5 2791.9,543.5 2793.9,543.5 2795.9,543.5 2797.9,543.4 2799.9,543.3 2801.9,543.2 2803.9,543.1 2805.9,543.0 2807.9,542.8 2809.9,542.6 2811.9,542.3 2813.9,542.1 2815.9,541.7 2817.6,541.4 2817.9,541.1 2819.9,532.2 2821.8,522.5 2821.9,522.2 2823.9,516.2 2825.9,510.4 2827.9,505.2 2829.9,500.9 2831.9,497.9 2833.9,496.4 2834.5,496.3 2835.9,496.4 2837.9,497.0 2839.9,498.0 2841.9,499.5 2843.9,501.5 2845.9,504.0 2847.1,505.7 2847.9,508.3 2849.2,514.1 2849.9,516.2 2851.9,521.7 2853.9,526.6 2855.9,530.9 2857.9,534.5 2859.7,537.2 2859.9,537.5 2861.9,540.3 2863.9,542.8 2865.9,544.7 2867.9,545.6 2868.1,545.6 2869.9,545.3 2871.9,544.3 2873.9,542.8 2875.9,540.9 2877.9,539.0 2879.9,537.0 2881.9,535.3 2883.9,533.9 2885.9,533.1 2887.0,533.0 2887.9,533.0 2889.9,533.2 2891.9,533.5 2893.9,534.0 2895.9,534.4 2897.9,534.8 2899.9,535.0 2901.7,535.1 2901.9,535.1 2903.9,535.0 2905.9,534.8 2907.9,534.4 2909.9,533.9 2911.9,533.3 2913.9,532.6 2915.9,531.8 2917.9,531.0 2919.9,530.1 2921.9,529.1 2923.9,528.2 2925.9,527.2 2926.9,526.7 2927.9,526.1 2929.9,524.3 2931.9,522.3 2933.9,520.8 2935.3,520.4 2935.9,520.4 2937.9,521.1 2939.9,522.2 2941.9,523.5 2943.7,524.6 2943.9,524.7 2945.9,526.0 2947.9,527.5 2949.9,529.2 2951.9,530.8 2953.9,532.4 2955.9,533.7 2957.9,534.6 2959.9,535.1 2960.5,535.1 2961.9,534.9 2963.9,534.1 2965.9,532.9 2967.9,531.4 2969.9,529.8 2971.9,528.4 2973.1,527.7 2973.9,527.2 2975.9,526.0 2977.9,524.7 2979.9,523.9 2981.5,523.6 2981.9,523.6 2983.9,523.9 2985.9,524.4 2987.9,525.3 2989.9,526.3 2991.9,527.5 2993.9,528.8 2995.9,530.2 2997.9,531.6 2999.9,532.9 3001.9,534.2 3003.9,535.3 3005.9,536.2 3007.9,536.8 3009.9,537.2 3010.9,537.2 3011.9,536.9 3013.9,534.6 3015.9,531.1 3017.9,527.4 3019.9,524.6 3021.4,523.6 3021.9,523.5 3023.9,523.2 3025.9,522.9 3027.9,522.7 3029.9,522.5 3031.9,522.5 3033.9,522.8 3035.9,523.5 3037.9,524.6 3039.9,525.9 3041.9,527.4 3043.9,528.9 3045.9,530.3 3047.9,531.5 3049.9,532.4 3051.9,532.9 3052.9,533.0 3053.9,532.9 3055.9,532.3 3057.9,531.2 3059.9,529.8 3061.9,528.4 3063.9,526.9 3065.9,525.7 3067.9,524.9 3069.7,524.6 3069.9,524.6 3071.9,524.9 3073.9,525.7 3075.9,526.8 3077.9,528.2 3079.9,529.8 3081.9,531.4 3083.9,533.0 3085.9,534.5 3087.9,535.7 3089.9,536.6 3091.9,537.1 3092.9,537.2 3093.9,537.1 3095.9,536.2 3097.9,534.8 3099.9,532.9 3101.9,530.8 3103.9,528.9 3105.9,527.2 3107.9,526.1 3109.7,525.7 3109.9,525.7 3111.9,525.9 3113.9,526.4 3115.9,527.1 3117.9,528.0 3119.9,529.1 3121.9,530.2 3123.9,531.3 3125.9,532.4 3127.9,533.3 3129.9,534.1 3131.9,534.7 3133.9,535.1 3134.9,535.1 3135.9,535.1 3137.9,534.9 3139.9,534.7 3141.9,534.3 3143.9,533.9 3145.9,533.6 3147.9,533.3 3149.9,533.1 3151.7,533.0 3151.9,533.0 3153.9,533.0 3155.9,533.0 3157.9,533.0 3159.9,533.0 3161.9,533.0 3163.9,533.0 3165.9,533.0 3167.9,533.0 3169.9,533.0 3171.9,533.0 3173.9,533.0 3174.8,533.0 3175.9,533.0 3177.9,533.2 3179.9,533.4 3181.9,533.7 3183.9,534.1 3185.9,534.4 3187.9,534.7 3189.9,535.0 3191.9,535.1 3192.6,535.1 3193.9,534.9 3195.9,533.8 3197.9,532.0 3199.9,529.6 3201.9,526.9 3203.9,523.9 3205.9,520.9 3207.9,518.1 3209.9,515.6 3211.9,513.7 3213.9,512.4 3215.7,512.0 3215.9,512.0 3217.9,512.2 3219.9,512.8 3221.9,513.7 3223.9,514.9 3225.9,516.3 3227.9,517.9 3229.9,519.6 3231.9,521.3 3233.9,523.2 3235.9,525.0 3237.9,526.8 3239.9,528.5 3241.9,530.1 3243.0,530.9 3243.9,531.6 3245.9,533.2 3247.9,534.9 3249.9,536.8 3251.9,538.6 3253.9,540.4 3255.9,542.1 3257.9,543.5 3259.9,544.6 3261.9,545.3 3263.9,545.6 3264.0,545.6 3265.9,545.5 3267.9,545.1 3269.9,544.6 3271.9,543.8 3273.9,542.9 3275.9,542.0 3277.9,540.9 3279.9,539.8 3280.8,539.3 3281.9,538.5 3283.9,536.5 3285.9,533.9 3287.9,531.2 3289.9,528.7 3291.9,526.8 3293.9,525.8 3294.5,525.7 3295.9,525.8 3297.9,526.1 3299.9,526.6 3301.9,527.4 3303.9,528.2 3305.9,529.1 3307.9,530.1 3309.9,531.1 3311.9,532.0 3313.9,532.8 3314.5,533.0 3315.9,533.5 3317.9,534.4 3319.9,535.3 3321.9,536.1 3323.9,536.8 3325.9,537.1 3327.0,537.2 3327.9,537.1 3329.9,536.7 3331.9,535.9 3333.9,534.7 3335.9,533.3 3337.9,531.8 3339.9,530.2 3341.9,528.6 3343.9,527.1 3345.9,525.8 3347.9,524.7 3349.9,523.9 3351.9,523.6 3352.3,523.6 3353.9,524.0 3355.9,525.5 3357.9,527.7 3359.9,530.2 3361.9,532.7 3363.9,534.8 3365.9,536.0 3367.0,536.2 3367.9,536.2 3369.9,535.8 3371.9,535.1 3373.9,534.1 3375.9,533.0 3377.9,531.7 3379.9,530.4 3381.9,529.0 3383.9,527.8 3385.9,526.7 3387.9,525.7 3388.0,525.7 3389.9,524.9 3391.9,524.1 3393.9,523.6 3394.3,523.6 3395.9,523.9 3397.9,524.8 3399.9,526.1 3401.9,527.5 3403.9,528.8 3405.9,529.7 3406.9,529.9 3407.9,530.0 3409.9,530.1 3411.9,530.3 3413.9,530.3 3415.9,530.4 3417.9,530.5 3419.9,530.5 3421.9,530.6 3423.9,530.7 3425.9,530.8 3427.9,530.9 3429.9,531.1 3431.9,531.3 3433.9,531.6 3435.9,531.9 3437.9,532.2 3439.9,532.5 3441.9,532.7 3443.9,532.9 3445.9,533.0 3446.8,533.0 3447.9,533.0 3449.9,532.8 3451.9,532.4 3453.9,531.9 3455.9,531.3 3457.9,530.5 3459.9,529.8 3461.9,529.0 3463.9,528.2 3465.9,527.4 3467.8,526.7 3467.9,526.7 3469.9,525.8 3471.9,524.7 3473.9,523.7 3475.9,522.9 3477.9,522.5 3478.3,522.5 3479.9,522.5 3481.9,522.5 3483.9,522.5 3485.9,522.5 3486.7,522.5 3487.9,522.5 3489.9,522.6 3491.9,522.8 3493.9,523.1 3495.9,523.5 3497.9,523.8 3499.9,524.2 3501.9,524.6 3503.9,524.9 3505.9,525.2 3507.9,525.5 3509.9,525.6 3511.9,525.7 3512.0,525.7 3513.9,525.7 3515.9,525.7 3517.9,525.7 3519.9,525.7 3521.9,525.7 3523.9,525.7 3525.9,525.7 3527.9,525.7 3528.7,525.7 3529.9,525.7 3531.9,525.9 3533.9,526.3 3535.9,526.8 3537.9,527.4 3539.9,528.1 3541.9,528.8 3543.9,529.5 3545.9,530.3 3547.9,531.0 3549.9,531.6 3551.9,532.1 3553.9,532.6 3555.9,532.9 3557.9,533.0 3558.2,533.0 3559.9,533.0 3561.9,532.9 3563.9,532.9 3565.9,532.8 3567.9,532.6 3569.9,532.5 3571.9,532.3 3573.9,532.1 3575.9,531.9 3577.9,531.6 3579.9,531.4 3581.9,531.1 3583.4,530.9 3583.9,530.8 3585.9,530.3 3587.9,529.7 3589.9,528.8 3591.9,527.9 3593.9,526.9 3595.9,525.9 3597.9,525.1 3599.9,524.4 3601.9,523.8 3603.9,523.6 3604.4,523.6 3605.9,523.6 3607.9,523.6 3609.9,523.6 3611.9,523.6 3613.9,523.6 3615.9,523.6 3617.0,523.6 3617.9,523.6 3619.9,523.8 3621.9,524.0 3623.9,524.4 3625.9,524.9 3627.9,525.4 3629.9,526.0 3631.9,526.6 3633.9,527.1 3635.9,527.6 3637.9,528.1 3639.9,528.4 3641.9,528.7 3643.9,528.8 3644.3,528.8 3645.9,528.8 3647.9,528.6 3649.9,528.4 3651.9,528.2 3653.9,527.9 3655.9,527.6 3657.9,527.3 3659.9,527.0 3661.9,526.8 3663.9,526.7 3665.3,526.7 3665.9,526.7 3667.9,526.7 3669.9,526.8 3671.9,526.9 3673.4,527.0" fill="none" stroke="#ee7d3a" stroke-width="4.6" stroke-dasharray="23.8 19.9" stroke-linejoin="round"/><polyline points="2255.9,530.4 2257.9,530.4 2259.9,530.4 2261.9,530.4 2263.9,530.4 2265.9,530.4 2267.9,530.4 2269.9,530.4 2271.9,530.4 2273.9,530.4 2275.9,530.4 2277.9,530.4 2279.9,530.4 2281.9,530.4 2283.9,530.4 2285.9,530.4 2287.9,530.4 2289.9,530.4 2291.9,530.4 2293.9,530.4 2295.9,530.4 2297.9,530.4 2299.9,530.4 2301.9,530.4 2303.9,530.4 2305.9,530.4 2307.9,530.4 2309.9,530.4 2311.9,530.4 2313.9,530.4 2315.9,530.4 2317.9,530.4 2319.9,530.4 2321.9,530.4 2323.9,530.4 2325.9,530.4 2327.9,530.4 2329.9,530.4 2331.9,530.4 2333.9,530.4 2335.9,530.4 2337.9,530.4 2338.0,530.4 2339.9,526.1 2341.9,516.2 2343.6,508.0 2343.9,506.8 2345.9,498.6 2347.9,490.4 2349.9,482.2 2351.9,474.4 2353.3,469.2 2353.9,467.0 2355.9,458.7 2357.9,450.1 2359.9,442.2 2361.9,436.1 2363.9,433.0 2364.5,432.8 2365.9,433.8 2367.9,438.1 2369.9,445.4 2371.9,455.1 2372.7,459.5 2373.9,471.0 2375.9,503.3 2377.6,532.2 2377.9,536.7 2379.9,565.8 2381.9,596.6 2382.4,605.0 2383.9,633.1 2385.9,674.1 2387.3,702.0 2387.9,713.6 2389.9,753.0 2391.9,786.6 2392.1,789.3 2393.9,813.8 2395.9,839.4 2397.9,857.3 2399.4,862.0 2399.9,861.7 2401.9,856.2 2403.9,844.6 2405.9,828.7 2407.9,810.4 2409.1,799.0 2409.9,790.3 2411.9,761.0 2413.9,724.9 2415.9,686.9 2416.4,677.7 2417.9,650.1 2419.9,611.9 2421.9,571.3 2423.7,532.2 2423.9,527.6 2425.9,476.8 2427.9,424.9 2428.5,411.0 2429.9,379.2 2431.9,336.9 2433.4,314.0 2433.9,308.2 2435.9,286.8 2437.9,275.4 2438.2,275.2 2439.9,277.2 2441.9,283.6 2443.9,293.0 2445.9,303.6 2447.9,314.0 2449.9,325.9 2451.9,339.8 2453.9,352.1 2455.2,357.6 2455.9,359.7 2457.9,364.5 2459.9,368.2 2461.9,371.3 2463.9,374.5 2465.9,378.4 2467.3,381.9 2467.9,383.6 2469.9,390.1 2471.9,397.9 2473.9,407.3 2474.6,411.0 2475.9,419.9 2477.9,438.4 2479.9,458.1 2481.9,474.0 2483.9,484.2 2485.9,492.2 2487.9,501.0 2489.1,508.0 2489.9,514.2 2491.9,535.0 2493.9,555.6 2494.0,556.5 2495.9,574.3 2497.9,593.1 2499.9,606.5 2501.3,609.8 2501.9,609.5 2503.9,605.1 2505.9,597.2 2507.9,588.2 2508.5,585.6 2509.9,578.4 2511.9,564.6 2513.9,550.0 2515.9,538.1 2517.9,532.3 2518.2,532.2 2519.9,536.3 2521.9,549.3 2523.9,567.7 2525.9,587.5 2527.9,605.0 2529.9,620.2 2531.9,635.5 2533.9,650.7 2535.9,665.6 2537.6,677.7 2537.9,679.8 2539.9,693.2 2541.9,706.0 2543.9,718.7 2545.9,731.5 2547.3,740.8 2547.9,745.2 2549.9,762.8 2551.9,780.2 2553.9,790.8 2554.6,791.7 2555.9,789.1 2557.9,776.3 2559.9,756.0 2561.9,731.7 2563.9,706.7 2564.3,702.0 2565.9,680.6 2567.9,649.4 2569.2,629.2 2569.9,618.4 2571.9,586.5 2573.9,557.7 2574.0,556.5 2575.9,534.8 2577.9,514.9 2579.9,496.3 2581.9,477.6 2583.7,459.5 2583.9,457.3 2585.9,433.4 2587.9,408.1 2589.9,386.1 2591.0,377.0 2591.9,370.5 2593.9,357.3 2595.8,351.8 2595.9,351.8 2597.9,352.5 2599.9,354.1 2601.9,356.4 2603.9,358.8 2605.0,360.0 2605.9,360.9 2607.9,362.9 2609.9,364.7 2611.9,366.8 2613.9,369.2 2615.9,372.4 2617.9,376.4 2619.9,381.6 2620.0,381.9 2621.9,396.2 2623.9,422.0 2624.9,435.2 2625.9,449.2 2627.9,481.3 2629.8,508.0 2629.9,509.1 2631.9,529.1 2633.9,546.1 2635.9,562.0 2637.0,571.0 2637.9,579.2 2639.9,600.0 2641.9,618.9 2643.9,628.9 2644.3,629.2 2645.9,627.9 2647.9,623.1 2649.9,616.3 2651.6,609.8 2651.9,608.6 2653.9,598.1 2655.9,584.4 2656.4,580.7 2657.9,566.5 2659.9,544.3 2661.3,532.2 2661.9,528.4 2663.9,516.6 2665.9,506.9 2667.9,500.0 2668.6,498.3 2669.9,495.7 2671.9,492.1 2673.9,489.6 2675.9,488.6 2677.9,489.2 2679.9,490.8 2681.9,493.2 2683.9,495.9 2685.6,498.3 2685.9,498.7 2687.9,502.3 2689.9,506.9 2691.9,512.2 2693.9,518.0 2695.9,524.0 2697.9,529.9 2699.9,535.5 2701.9,540.5 2702.5,541.9 2703.9,545.4 2705.9,550.1 2707.4,551.6 2707.9,551.6 2709.9,550.8 2711.9,549.0 2713.9,546.6 2715.9,543.7 2717.0,541.9 2717.9,539.6 2719.9,530.6 2721.9,522.3 2723.1,520.4 2723.9,520.6 2725.9,522.3 2727.9,525.2 2729.9,528.6 2731.9,531.9 2733.9,534.3 2735.7,535.1 2735.9,535.1 2737.9,534.4 2739.9,532.9 2741.9,531.3 2743.9,530.2 2745.2,529.9 2745.9,529.9 2747.9,529.9 2749.9,530.0 2751.9,530.0 2753.9,530.1 2755.9,530.2 2757.9,530.3 2759.9,530.4 2761.9,530.6 2763.9,530.8 2765.1,530.9 2765.9,531.1 2767.9,532.0 2769.9,533.3 2771.9,534.5 2773.5,535.1 2773.9,535.2 2775.9,535.5 2777.9,535.8 2779.9,535.9 2781.9,536.1 2783.9,536.2 2785.9,536.4 2787.9,536.7 2789.9,537.1 2790.3,537.2 2791.9,538.3 2793.9,541.0 2795.9,544.4 2797.9,547.6 2799.9,549.6 2800.8,549.8 2801.9,549.5 2803.9,547.4 2805.9,543.9 2807.9,539.4 2809.9,534.4 2811.3,530.9 2811.9,529.2 2813.9,521.0 2815.9,512.4 2817.6,507.8 2817.9,507.4 2819.9,504.6 2821.9,502.1 2823.9,500.0 2825.9,498.3 2827.9,497.1 2829.9,496.4 2831.3,496.3 2831.9,496.4 2833.9,497.7 2835.9,500.5 2837.9,504.3 2839.9,508.9 2841.9,513.9 2843.9,519.1 2845.9,524.0 2847.9,528.4 2848.1,528.8 2849.9,532.9 2851.9,537.8 2853.9,541.8 2855.5,543.5 2855.9,543.7 2857.9,544.5 2859.9,545.1 2861.9,545.5 2863.9,545.6 2865.9,545.5 2867.9,545.4 2869.9,545.1 2871.9,544.8 2873.9,544.5 2875.9,544.1 2877.9,543.9 2879.9,543.6 2881.9,543.5 2882.8,543.5 2883.9,543.6 2885.9,544.2 2887.9,545.0 2889.9,545.9 2891.9,546.5 2893.3,546.7 2893.9,546.7 2895.9,546.0 2897.9,544.7 2899.9,543.0 2901.7,541.4 2901.9,541.2 2903.9,538.9 2905.9,535.8 2907.9,532.4 2909.9,529.1 2910.1,528.8 2911.9,525.6 2913.9,521.4 2915.9,517.3 2917.9,514.0 2919.9,512.1 2920.6,512.0 2921.9,512.0 2923.9,512.1 2925.9,512.2 2927.9,512.4 2929.9,512.6 2931.9,512.9 2933.9,513.3 2935.9,513.7 2937.9,514.2 2939.9,514.7 2941.6,515.2 2941.9,515.3 2943.9,517.7 2945.9,522.1 2947.9,527.8 2949.9,533.8 2951.9,539.4 2953.9,543.8 2955.3,545.6 2955.9,546.1 2957.9,547.8 2959.9,549.4 2961.9,550.7 2963.9,551.9 2965.9,552.9 2967.9,553.6 2969.9,553.9 2971.0,554.0 2971.9,553.5 2973.9,549.3 2975.9,542.6 2977.9,535.4 2979.4,530.9 2979.9,529.6 2981.9,523.9 2983.9,517.8 2985.9,511.8 2987.9,506.5 2989.9,502.3 2991.9,499.8 2993.1,499.4 2993.9,499.4 2995.9,499.8 2997.9,500.6 2999.9,501.8 3001.9,503.5 3003.9,505.7 3005.9,508.3 3007.9,511.5 3009.9,515.2 3011.9,528.3 3013.0,535.1 3013.9,538.1 3015.9,544.0 3017.9,548.9 3019.9,552.7 3021.9,555.2 3023.5,556.1 3023.9,556.2 3025.9,556.7 3027.9,557.0 3029.9,557.2 3030.9,557.2 3031.9,556.7 3033.9,553.5 3035.9,548.3 3037.9,542.6 3039.9,537.9 3040.3,537.2 3041.9,534.5 3043.9,531.0 3045.9,527.6 3047.9,524.4 3049.9,521.7 3051.9,519.6 3053.9,518.5 3055.0,518.3 3055.9,518.3 3057.9,518.6 3059.9,519.0 3061.3,519.4 3061.9,519.6 3063.9,520.8 3065.9,522.5 3067.9,524.6 3069.9,526.9 3071.9,529.1 3073.9,531.0 3075.9,532.4 3077.9,533.0 3078.2,533.0 3079.9,533.0 3081.9,533.0 3083.9,533.0 3085.0,533.0 3085.9,532.8 3087.9,531.4 3089.9,529.0 3091.9,526.0 3093.9,522.9 3095.9,520.3 3097.9,518.6 3099.2,518.3 3099.9,518.3 3101.9,518.3 3103.9,518.3 3105.5,518.3 3105.9,518.3 3107.9,519.4 3109.9,521.8 3111.9,524.9 3113.9,528.4 3115.9,531.9 3117.9,534.8 3118.1,535.1 3119.9,537.6 3121.9,540.6 3123.9,543.7 3125.9,546.4 3127.9,548.5 3129.9,549.7 3130.7,549.8 3131.9,549.5 3133.9,547.9 3135.9,545.3 3137.9,542.2 3139.9,539.0 3141.2,537.2 3141.9,536.2 3143.9,533.0 3145.9,529.3 3147.9,525.5 3149.9,522.0 3151.9,519.0 3153.9,517.0 3155.9,516.2 3157.9,516.2 3159.9,516.3 3161.9,516.3 3163.9,516.5 3165.9,516.6 3167.9,516.8 3169.9,517.0 3171.9,517.2 3172.7,517.3 3173.9,517.8 3175.9,520.0 3177.9,523.4 3179.9,527.5 3181.9,531.9 3183.9,536.1 3185.9,539.6 3187.9,541.9 3189.5,542.5 3189.9,542.5 3191.9,542.5 3193.9,542.5 3194.7,542.5 3195.9,542.3 3197.9,541.3 3199.9,539.7 3201.9,537.6 3203.9,535.3 3205.9,533.1 3207.9,531.1 3209.4,529.9 3209.9,529.6 3211.9,528.1 3213.9,526.7 3215.9,525.8 3216.8,525.7 3217.9,525.8 3219.9,526.3 3221.9,527.3 3223.9,528.4 3225.9,529.6 3227.9,530.7 3229.9,531.5 3231.9,532.0 3232.5,532.0 3233.9,532.0 3235.9,531.7 3237.9,531.4 3239.9,530.9 3241.9,530.3 3243.9,529.7 3245.9,529.0 3247.9,528.2 3249.9,527.5 3251.9,526.8 3253.9,526.1 3255.9,525.5 3257.9,525.0 3259.9,524.6 3261.9,524.3 3263.9,524.2 3264.0,524.2 3265.9,524.5 3267.9,525.2 3269.9,526.3 3271.9,527.6 3273.9,529.0 3275.9,530.4 3277.9,531.7 3279.9,532.7 3280.8,533.0 3281.9,533.4 3283.9,534.0 3285.9,534.6 3287.9,535.0 3289.2,535.1 3289.9,535.1 3291.9,534.9 3293.9,534.4 3295.9,533.8 3297.9,533.1 3299.9,532.3 3301.9,531.5 3303.9,530.7 3305.9,530.0 3307.9,529.4 3309.9,529.0 3311.9,528.8 3312.4,528.8 3313.9,528.9 3315.9,529.1 3317.9,529.4 3319.9,529.8 3321.9,530.2 3323.9,530.6 3325.9,530.9 3327.0,531.0 3327.9,531.1 3329.9,531.2 3331.9,531.3 3333.9,531.4 3335.9,531.5 3337.9,531.6 3339.9,531.7 3341.9,531.8 3343.9,531.8 3345.9,531.9 3347.9,531.9 3349.9,532.0 3351.9,532.0 3353.9,532.0 3354.4,532.0 3355.9,531.9 3357.9,531.7 3359.9,531.2 3361.9,530.7 3363.9,530.0 3365.9,529.4 3367.9,528.7 3369.9,528.0 3371.9,527.5 3373.9,527.0 3375.9,526.8 3377.5,526.7 3377.9,526.7 3379.9,528.0 3381.9,529.6 3382.7,529.9 3383.9,530.1 3385.9,530.4 3387.9,530.7 3389.9,531.0 3391.9,531.2 3393.9,531.4 3395.9,531.6 3397.9,531.7 3399.9,531.8 3401.9,531.9 3403.9,532.0 3405.9,532.0 3406.9,532.0 3407.9,531.9 3409.9,531.4 3411.9,530.6 3413.9,529.5 3415.9,528.5 3417.9,527.5 3419.9,526.9 3421.6,526.7 3421.9,526.7 3423.9,526.9 3425.9,527.3 3427.9,527.9 3429.9,528.7 3431.9,529.5 3433.9,530.2 3435.9,531.0 3437.9,531.5 3439.9,531.9 3440.5,532.0 3441.9,532.1 3443.9,532.3 3445.9,532.5 3447.9,532.6 3449.9,532.8 3451.9,532.9 3453.9,532.9 3455.9,533.0 3457.3,533.0 3457.9,532.9 3459.9,531.4 3461.9,529.6 3463.6,528.8 3463.9,528.8 3465.9,528.8 3467.9,528.9 3469.9,529.0 3471.9,529.1 3473.9,529.2 3475.9,529.3 3477.9,529.5 3479.9,529.7 3481.9,529.8 3482.5,529.9 3483.9,530.1 3485.9,530.4 3487.9,530.9 3489.9,531.3 3491.9,531.7 3493.9,532.0 3495.1,532.0 3495.9,532.0 3497.9,531.9 3499.9,531.7 3501.9,531.4 3503.9,531.1 3505.9,530.7 3507.9,530.4 3509.9,530.0 3511.9,529.6 3513.9,529.3 3515.9,529.1 3517.9,528.9 3519.9,528.8 3520.3,528.8 3521.9,528.9 3523.9,529.3 3525.9,529.9 3527.9,530.6 3529.9,531.3 3531.9,532.0 3533.9,532.6 3535.9,532.9 3537.1,533.0 3537.9,533.0 3539.9,533.0 3541.9,533.0 3543.9,533.0 3545.9,533.0 3547.9,533.0 3549.9,533.0 3551.9,533.0 3553.9,533.0 3555.9,532.6 3557.9,531.5 3559.9,530.0 3561.9,528.3 3563.9,526.7 3565.9,525.4 3567.9,524.7 3568.7,524.6 3569.9,524.6 3571.9,524.6 3573.9,524.6 3575.9,524.6 3576.0,524.6 3577.9,524.9 3579.9,525.9 3581.9,527.3 3583.9,528.9 3585.9,530.7 3587.9,532.4 3589.9,533.8 3591.9,534.7 3593.9,535.1 3595.9,535.1 3597.9,535.0 3599.9,534.9 3601.9,534.8 3603.9,534.6 3605.9,534.4 3607.9,534.2 3608.6,534.1 3609.9,533.8 3611.9,532.7 3613.9,531.3 3615.9,529.7 3617.9,528.2 3619.9,527.1 3621.2,526.7 3621.9,526.6 3623.9,526.3 3625.9,526.0 3627.9,525.9 3629.9,525.7 3631.7,525.7 3631.9,525.7 3633.9,525.9 3635.9,526.4 3637.9,527.0 3639.9,527.8 3641.9,528.7 3643.9,529.6 3645.9,530.4 3647.9,531.2 3649.9,531.7 3651.9,532.0 3652.7,532.0 3653.9,531.9 3655.9,531.4 3657.9,530.7 3659.9,530.1 3661.1,529.9 3661.9,529.8 3663.9,529.5 3665.9,529.3 3667.9,529.1 3669.9,528.9 3671.9,528.8 3673.4,528.8" fill="none" stroke="#437cab" stroke-width="4.6" stroke-dasharray="36.5 14 10 15.5" stroke-linejoin="round"/></g>
<text x="2255.90" y="1105.1" font-size="67" text-anchor="middle">0</text>
<text x="2610.28" y="1105.1" font-size="67" text-anchor="middle">50</text>
<text x="2964.65" y="1105.1" font-size="67" text-anchor="middle">100</text>
<text x="3319.03" y="1105.1" font-size="67" text-anchor="middle">150</text>
<text x="3673.40" y="1105.1" font-size="67" text-anchor="middle">200</text>
<text x="2232.40" y="1046.50" font-size="67" text-anchor="end">−0.4</text>
<text x="2232.40" y="798.45" font-size="67" text-anchor="end">−0.2</text>
<text x="2232.40" y="550.40" font-size="67" text-anchor="end">0</text>
<text x="2232.40" y="302.35" font-size="67" text-anchor="end">0.2</text>
<text x="2232.40" y="54.30" font-size="67" text-anchor="end">0.4</text>
<text x="2964.65" y="1202.1" font-size="67" text-anchor="middle">Time/ms</text>
<text transform="translate(2047.70,530.40) rotate(-90)" font-size="67" text-anchor="middle"><tspan font-style="italic">v</tspan><tspan font-size="39" dy="15" font-style="italic">y</tspan><tspan dy="-15">/(cm·s</tspan><tspan font-size="38" dy="-22.6">−1</tspan><tspan dy="22.6">)</tspan></text>
<text x="2286.9" y="112.00" font-size="67">(b)</text>
<path d="M2852.3,88.5H3033.5" stroke="#ee7d3a" stroke-width="4.8" stroke-dasharray="22.3 17.2"/>
<path d="M2857.7,179.2H3033.5" stroke="#437cab" stroke-width="4.6" stroke-dasharray="30.4 16.8 5.4 17.2"/>
<text x="3057.4" y="112.0" font-size="67">Numerical simulation</text>
<text x="3057.4" y="201.5" font-size="67">Field test</text>
<rect x="371.5" y="1305.5" width="1417.5" height="991.9000000000001" fill="none" stroke="#2b2a2b" stroke-width="4.6"/>
<path d="M371.50,2297.40V2278.10M725.88,2297.40V2278.10M1080.25,2297.40V2278.10M1434.62,2297.40V2278.10M1789.00,2297.40V2278.10M371.50,2297.40H390.80M371.50,2132.08H390.80M371.50,1966.77H390.80M371.50,1801.45H390.80M371.50,1636.13H390.80M371.50,1470.82H390.80M371.50,1305.50H390.80" stroke="#2b2a2b" stroke-width="4.1" fill="none"/>
<g><polyline points="371.5,1801.5 373.5,1801.5 375.5,1801.5 377.5,1801.5 379.5,1801.5 381.5,1801.5 383.5,1801.5 385.5,1801.5 387.5,1801.5 389.5,1801.5 391.5,1801.5 393.5,1801.5 395.5,1801.5 397.5,1801.5 399.5,1801.5 401.5,1801.5 403.5,1801.5 405.5,1801.5 407.5,1801.5 409.5,1801.5 411.5,1801.5 413.5,1801.5 415.5,1801.5 417.5,1801.5 419.5,1801.5 421.5,1801.5 423.5,1801.5 425.5,1801.5 427.5,1801.5 429.5,1801.5 431.5,1801.5 433.5,1801.5 435.5,1801.5 437.5,1801.5 439.5,1801.5 441.5,1801.5 443.5,1801.5 445.5,1801.5 447.5,1801.5 449.5,1801.5 451.5,1801.5 453.5,1801.5 455.5,1801.5 457.5,1801.5 459.5,1801.5 461.5,1801.5 463.5,1801.5 465.5,1801.5 467.5,1801.5 469.5,1801.5 471.5,1801.5 473.5,1801.5 475.5,1801.5 477.5,1801.5 479.5,1801.5 481.5,1801.5 483.5,1801.5 485.5,1801.5 487.5,1801.5 489.5,1801.5 491.5,1801.5 493.5,1801.5 495.5,1801.5 497.5,1801.5 499.5,1801.5 501.5,1801.5 503.5,1801.5 505.5,1801.5 507.5,1801.5 509.5,1801.5 511.5,1801.5 513.5,1801.5 515.5,1801.5 517.5,1801.5 519.5,1801.5 521.5,1801.5 523.5,1801.5 525.5,1801.5 527.5,1801.5 529.5,1801.5 531.5,1801.5 533.5,1801.5 535.5,1801.5 537.5,1801.5 538.0,1801.5 539.5,1800.4 541.5,1796.6 543.5,1792.0 545.5,1786.4 547.5,1779.6 549.0,1775.0 549.5,1773.6 551.5,1767.6 553.5,1762.4 555.0,1760.0 555.5,1759.5 557.5,1757.6 559.5,1756.2 561.5,1755.4 562.7,1755.2 563.5,1755.7 565.5,1760.7 567.5,1768.2 568.0,1770.0 569.5,1775.9 571.5,1785.7 573.5,1797.8 573.7,1799.1 575.5,1812.9 577.5,1832.7 579.2,1854.0 579.5,1858.5 581.5,1899.3 581.9,1908.8 583.5,1957.7 584.7,1991.2 585.5,2007.4 587.5,2042.9 589.5,2068.3 590.1,2073.5 591.5,2083.8 593.5,2095.8 595.5,2101.0 595.6,2101.0 597.5,2085.6 599.5,2049.2 601.1,2018.6 601.5,2011.8 603.5,1977.5 605.5,1936.8 606.6,1908.8 607.5,1877.2 609.3,1799.1 609.5,1791.2 611.5,1714.6 612.1,1689.3 613.5,1618.0 614.8,1552.1 615.5,1519.8 617.5,1444.2 617.6,1442.3 619.5,1412.1 621.5,1390.7 623.1,1384.7 623.5,1385.4 625.5,1406.6 627.5,1442.3 629.5,1492.7 631.3,1552.1 631.5,1559.1 633.5,1639.8 634.0,1661.9 635.5,1735.6 636.8,1799.1 637.5,1829.9 639.5,1908.8 641.5,1971.2 642.3,1991.2 643.5,2020.1 645.0,2040.6 645.5,2039.5 647.5,2017.6 649.5,1981.4 650.5,1963.7 651.5,1945.7 653.5,1903.9 655.5,1862.9 656.0,1854.0 657.5,1828.1 659.5,1795.9 661.5,1771.6 663.5,1753.3 665.5,1736.9 667.5,1724.8 669.5,1719.5 669.7,1719.5 671.5,1723.3 673.5,1733.6 675.2,1744.2 675.5,1746.2 677.5,1764.2 679.5,1786.3 680.7,1799.1 681.5,1807.3 683.5,1828.8 685.5,1848.3 686.2,1854.0 687.5,1864.3 689.5,1879.3 691.5,1886.8 691.7,1886.9 693.5,1883.3 695.5,1873.0 697.5,1859.2 699.5,1845.5 699.9,1843.0 701.5,1832.1 703.5,1816.5 705.5,1801.5 707.5,1790.3 708.1,1788.1 709.5,1783.9 711.5,1778.4 713.5,1774.2 715.5,1771.9 716.4,1771.6 717.5,1773.1 719.5,1781.7 721.5,1794.0 723.5,1805.6 724.6,1810.1 725.5,1813.0 727.5,1819.4 729.5,1825.0 731.5,1828.5 732.8,1829.3 733.5,1829.0 735.5,1825.0 737.5,1817.6 739.5,1808.2 741.5,1798.3 743.5,1789.3 743.8,1788.1 745.5,1780.6 747.5,1770.8 749.5,1761.8 751.5,1756.0 752.1,1755.2 753.5,1754.0 755.5,1752.4 757.5,1751.2 759.5,1750.3 761.5,1749.8 763.0,1749.7 763.5,1749.7 765.5,1750.3 767.5,1751.4 769.5,1753.0 771.5,1755.0 773.5,1757.2 775.5,1759.5 777.5,1761.7 779.5,1763.8 781.5,1765.7 782.2,1766.2 783.5,1767.1 785.5,1768.4 787.5,1769.5 789.5,1770.6 791.5,1771.7 793.5,1772.9 795.5,1774.3 797.5,1776.0 798.7,1777.1 799.5,1778.0 801.5,1781.1 803.5,1785.2 805.5,1789.9 807.5,1794.9 809.5,1799.8 811.5,1804.2 813.5,1807.9 815.2,1810.1 815.5,1810.4 817.5,1812.5 819.5,1814.5 821.5,1816.2 823.5,1817.4 825.5,1818.0 826.0,1818.0 827.5,1817.7 829.5,1816.7 831.5,1815.2 833.5,1813.3 835.5,1811.4 837.1,1810.1 837.5,1809.8 839.5,1807.8 841.5,1805.6 843.5,1803.5 845.5,1801.8 847.5,1801.0 848.1,1800.9 849.5,1801.3 851.5,1803.1 853.5,1805.7 855.5,1808.4 857.5,1810.7 859.5,1811.9 860.0,1812.0 861.5,1812.0 863.5,1811.9 865.5,1811.8 867.5,1811.7 869.5,1811.6 871.5,1811.4 873.5,1811.2 875.5,1810.9 877.5,1810.6 879.5,1810.2 881.5,1809.8 883.5,1809.4 884.1,1809.3 885.5,1809.0 887.5,1808.7 889.5,1808.3 891.5,1808.0 893.5,1807.7 895.5,1807.3 897.5,1806.9 899.5,1806.6 901.5,1806.2 903.5,1805.7 905.5,1805.3 907.5,1804.8 909.5,1804.2 911.5,1803.6 913.5,1803.0 915.5,1802.0 917.5,1800.6 919.5,1799.1 921.5,1797.6 923.5,1796.4 925.5,1795.7 926.1,1795.7 927.5,1795.7 929.5,1795.7 931.5,1795.7 933.5,1795.7 935.5,1795.7 937.5,1795.7 939.5,1795.7 941.5,1795.7 943.5,1795.7 945.5,1795.7 947.5,1795.7 949.2,1795.7 949.5,1795.7 951.5,1795.8 953.5,1796.0 955.5,1796.3 957.5,1796.7 959.5,1797.2 961.5,1797.7 963.5,1798.2 965.5,1798.7 967.5,1799.3 969.5,1799.7 970.3,1799.9 971.5,1800.2 973.5,1800.7 975.5,1801.2 977.5,1801.8 979.5,1802.4 981.5,1803.0 983.5,1803.6 985.5,1804.1 987.5,1804.5 989.5,1804.8 991.5,1805.0 993.4,1805.1 993.5,1805.1 995.5,1805.0 997.5,1804.8 999.5,1804.5 1001.5,1804.1 1003.5,1803.6 1005.5,1803.1 1007.5,1802.6 1009.5,1802.1 1011.5,1801.7 1013.5,1801.3 1015.5,1801.1 1017.5,1800.9 1018.6,1800.9 1019.5,1800.9 1021.5,1801.2 1023.5,1801.6 1025.5,1802.2 1027.5,1802.8 1029.5,1803.5 1031.5,1804.1 1033.5,1804.6 1035.5,1805.0 1037.5,1805.1 1039.5,1805.0 1041.5,1804.6 1043.5,1804.1 1045.5,1803.5 1047.5,1802.8 1049.5,1802.2 1051.5,1801.6 1053.5,1801.2 1055.5,1800.9 1056.4,1800.9 1057.5,1800.9 1059.5,1801.0 1061.5,1801.1 1063.5,1801.3 1065.5,1801.4 1067.5,1801.7 1069.5,1801.9 1071.5,1802.1 1073.5,1802.3 1075.5,1802.5 1077.5,1802.7 1079.5,1802.9 1081.5,1803.0 1083.5,1803.0 1083.7,1803.0 1085.5,1803.0 1087.5,1802.9 1089.5,1802.8 1091.5,1802.6 1093.5,1802.5 1095.5,1802.3 1097.5,1802.2 1099.5,1802.1 1101.5,1802.0 1102.6,1802.0 1103.5,1802.0 1105.5,1802.0 1107.5,1802.1 1109.5,1802.2 1111.5,1802.2 1113.5,1802.4 1115.5,1802.5 1117.5,1802.6 1119.5,1802.7 1121.5,1802.8 1123.5,1802.9 1125.5,1802.9 1127.5,1803.0 1129.5,1803.0 1129.9,1803.0 1131.5,1803.0 1133.5,1802.9 1135.5,1802.7 1137.5,1802.5 1139.5,1802.2 1141.5,1801.9 1143.5,1801.7 1145.5,1801.4 1147.5,1801.2 1149.5,1801.0 1151.5,1800.9 1153.0,1800.9 1153.5,1800.9 1155.5,1800.9 1157.5,1801.0 1159.5,1801.1 1161.5,1801.2 1163.5,1801.4 1165.5,1801.5 1167.5,1801.7 1169.5,1801.8 1171.5,1801.9 1173.5,1802.0 1175.5,1802.0 1176.1,1802.0 1177.5,1802.0 1179.5,1801.8 1181.5,1801.6 1183.5,1801.3 1185.5,1801.0 1187.5,1800.6 1189.5,1800.3 1191.5,1800.1 1193.5,1799.9 1195.0,1799.9 1195.5,1799.9 1197.5,1799.9 1199.5,1799.9 1201.5,1799.9 1203.5,1799.9 1205.5,1799.9 1207.5,1799.9 1209.5,1799.9 1211.5,1799.9 1213.5,1799.9 1215.5,1799.9 1217.5,1799.9 1219.5,1799.9 1221.5,1799.9 1222.4,1799.9 1223.5,1799.9 1225.5,1799.9 1227.5,1800.0 1229.5,1800.0 1231.5,1800.1 1233.5,1800.2 1235.5,1800.3 1237.5,1800.4 1239.5,1800.5 1241.5,1800.6 1243.5,1800.7 1245.5,1800.8 1247.5,1800.9 1247.6,1800.9 1249.5,1801.0 1251.5,1801.1 1253.5,1801.3 1255.5,1801.5 1257.5,1801.7 1259.5,1801.9 1261.5,1802.1 1263.5,1802.2 1265.5,1802.4 1267.5,1802.6 1269.5,1802.7 1271.5,1802.8 1273.5,1802.9 1275.5,1803.0 1277.0,1803.0 1277.5,1803.0 1279.5,1803.0 1281.5,1802.9 1283.5,1802.8 1285.5,1802.7 1287.5,1802.6 1289.5,1802.5 1291.5,1802.4 1293.5,1802.3 1295.5,1802.2 1297.5,1802.1 1299.5,1802.0 1301.5,1802.0 1302.2,1802.0 1303.5,1802.0 1305.5,1802.0 1307.5,1802.1 1309.5,1802.2 1311.5,1802.3 1313.5,1802.4 1315.5,1802.5 1317.5,1802.7 1319.5,1802.8 1321.5,1802.9 1323.5,1802.9 1325.5,1803.0 1327.3,1803.0 1327.5,1803.0 1329.5,1803.0 1331.5,1802.8 1333.5,1802.7 1335.5,1802.5 1337.5,1802.3 1339.5,1802.0 1341.5,1801.8 1343.5,1801.5 1345.5,1801.3 1347.5,1801.1 1349.5,1801.0 1350.4,1800.9 1351.5,1800.8 1353.5,1800.7 1355.5,1800.6 1357.5,1800.5 1359.5,1800.5 1361.5,1800.4 1363.5,1800.3 1365.5,1800.2 1367.5,1800.1 1369.5,1800.1 1371.5,1800.0 1373.5,1800.0 1375.5,1799.9 1377.5,1799.9 1379.5,1799.9 1379.8,1799.9 1381.5,1799.9 1383.5,1799.9 1385.5,1799.9 1387.5,1799.9 1389.5,1799.9 1391.5,1799.9 1393.5,1799.9 1395.5,1799.9 1397.5,1799.9 1399.5,1799.9 1401.5,1799.9 1402.9,1799.9 1403.5,1799.9 1405.5,1800.0 1407.5,1800.1 1409.5,1800.4 1411.5,1800.6 1413.5,1801.0 1415.5,1801.3 1417.5,1801.6 1419.5,1802.0 1421.5,1802.3 1423.5,1802.6 1425.5,1802.8 1427.5,1802.9 1429.5,1803.0 1430.0,1803.0 1431.5,1803.0 1433.5,1802.9 1435.5,1802.8 1437.5,1802.6 1439.5,1802.4 1441.5,1802.1 1443.5,1801.9 1445.5,1801.6 1447.5,1801.4 1449.5,1801.2 1451.5,1801.1 1453.5,1801.0 1455.0,1801.0 1455.5,1801.0 1457.5,1801.0 1459.5,1801.0 1461.5,1801.0 1463.5,1801.0 1465.5,1801.0 1467.5,1801.0 1469.5,1801.0 1471.5,1801.0 1473.5,1801.0 1475.5,1801.0 1477.5,1801.0 1479.5,1801.0 1480.0,1801.0 1481.5,1801.0 1483.5,1801.2 1485.5,1801.4 1487.5,1801.6 1489.5,1801.9 1491.5,1802.2 1493.5,1802.5 1495.5,1802.7 1497.5,1802.9 1499.5,1803.0 1500.0,1803.0 1501.5,1803.0 1503.5,1802.8 1505.5,1802.4 1507.5,1802.0 1509.5,1801.5 1511.5,1801.0 1513.5,1800.4 1515.5,1799.8 1517.5,1799.3 1519.5,1798.8 1521.5,1798.3 1523.5,1798.0 1525.5,1797.8 1526.9,1797.8 1527.5,1797.8 1529.5,1797.8 1531.5,1797.8 1533.5,1797.8 1535.5,1797.8 1537.5,1797.8 1539.5,1797.8 1541.5,1797.8 1543.5,1797.8 1545.5,1797.8 1547.5,1797.8 1549.5,1797.8 1551.5,1797.8 1552.1,1797.8 1553.5,1797.8 1555.5,1798.0 1557.5,1798.4 1559.5,1798.8 1561.5,1799.3 1563.5,1799.9 1565.5,1800.5 1567.5,1801.1 1569.5,1801.7 1571.5,1802.2 1573.5,1802.7 1575.2,1803.0 1575.5,1803.1 1577.5,1803.4 1579.5,1803.8 1581.5,1804.2 1583.5,1804.5 1585.5,1804.9 1587.5,1805.2 1589.5,1805.5 1591.5,1805.8 1593.5,1806.0 1595.5,1806.1 1597.5,1806.2 1598.3,1806.2 1599.5,1806.2 1601.5,1806.2 1603.5,1806.2 1605.5,1806.1 1607.5,1806.1 1609.5,1806.0 1611.5,1805.9 1613.5,1805.8 1615.5,1805.7 1617.5,1805.7 1619.5,1805.5 1621.5,1805.4 1623.5,1805.3 1625.5,1805.2 1627.5,1805.1 1627.7,1805.1 1629.5,1805.0 1631.5,1804.8 1633.5,1804.6 1635.5,1804.3 1637.5,1804.0 1639.5,1803.7 1641.5,1803.4 1643.5,1803.0 1645.5,1802.6 1647.5,1802.2 1649.5,1801.8 1651.5,1801.4 1653.5,1801.0 1655.5,1800.6 1657.5,1800.2 1659.5,1799.8 1661.5,1799.5 1663.5,1799.1 1665.5,1798.8 1667.5,1798.5 1669.5,1798.3 1671.5,1798.1 1673.5,1798.0 1675.5,1797.9 1677.5,1797.8 1678.2,1797.8 1679.5,1797.8 1681.5,1797.9 1683.5,1798.1 1685.5,1798.4 1687.5,1798.7 1689.5,1799.0 1691.5,1799.4 1693.5,1799.8 1695.5,1800.2 1697.5,1800.6 1699.5,1801.0 1701.5,1801.4 1703.5,1801.7 1705.5,1802.0 1707.5,1802.3 1709.5,1802.5 1711.5,1802.8 1713.5,1803.1 1715.5,1803.3 1717.5,1803.5 1719.5,1803.7 1721.5,1803.9 1723.5,1804.0 1725.5,1804.1 1726.5,1804.1 1727.5,1804.1 1729.5,1803.9 1731.5,1803.6 1733.5,1803.2 1735.5,1802.6 1737.5,1802.1 1739.5,1801.5 1741.5,1801.0 1743.5,1800.5 1745.5,1800.2 1747.5,1799.9 1749.5,1799.7 1751.5,1799.6 1753.5,1799.4 1755.5,1799.2 1757.5,1799.1 1759.5,1799.0 1761.5,1798.9 1763.5,1798.8 1765.5,1798.8 1766.4,1798.8 1767.5,1798.8 1769.5,1798.8 1771.5,1798.9 1773.5,1798.9 1775.5,1799.0 1777.5,1799.1 1779.5,1799.2 1781.5,1799.3 1783.5,1799.5 1785.5,1799.6 1787.5,1799.8 1789.0,1800.0" fill="none" stroke="#ee7d3a" stroke-width="4.6" stroke-dasharray="23.8 19.9" stroke-linejoin="round"/><polyline points="371.5,1801.5 373.5,1801.5 375.5,1801.5 377.5,1801.5 379.5,1801.5 381.5,1801.5 383.5,1801.5 385.5,1801.5 387.5,1801.5 389.5,1801.5 391.5,1801.5 393.5,1801.5 395.5,1801.5 397.5,1801.5 399.5,1801.5 401.5,1801.5 403.5,1801.5 405.5,1801.5 407.5,1801.5 409.5,1801.5 411.5,1801.5 413.5,1801.5 415.5,1801.5 417.5,1801.5 419.5,1801.5 421.5,1801.5 423.5,1801.5 425.5,1801.5 427.5,1801.5 429.5,1801.5 431.5,1801.5 433.5,1801.5 435.5,1801.5 437.5,1801.5 439.5,1801.5 441.5,1801.5 442.0,1801.5 443.5,1801.1 445.5,1799.9 447.5,1797.7 449.5,1794.8 451.5,1791.3 453.5,1787.3 455.5,1783.0 455.7,1782.6 457.5,1776.8 459.5,1767.1 461.5,1755.5 463.5,1743.5 465.5,1732.8 466.7,1727.7 467.5,1724.6 469.5,1716.6 471.5,1708.7 473.5,1701.5 475.5,1695.9 477.5,1692.6 478.7,1692.0 479.5,1692.3 481.5,1695.6 483.5,1702.3 485.5,1712.2 487.5,1725.0 488.6,1733.2 489.5,1745.5 491.4,1788.1 491.5,1790.3 493.5,1839.9 494.1,1854.0 495.5,1884.4 497.5,1925.2 499.5,1962.0 499.6,1963.7 501.5,1993.5 503.5,2022.0 505.1,2046.0 505.5,2052.6 507.5,2089.5 509.5,2124.8 510.6,2139.4 511.5,2149.5 513.5,2170.6 515.5,2182.7 516.0,2183.3 517.5,2180.7 519.5,2170.3 521.5,2154.6 523.5,2136.0 524.3,2128.4 525.5,2114.9 527.5,2084.7 529.5,2048.3 531.5,2009.9 532.5,1991.2 533.5,1972.1 535.5,1931.1 537.5,1890.8 538.0,1881.4 539.5,1855.0 541.5,1821.8 543.5,1788.1 545.5,1751.8 547.5,1715.1 549.0,1689.3 549.5,1681.2 551.5,1649.5 553.5,1620.2 554.5,1607.0 555.5,1594.1 557.5,1569.1 559.5,1549.8 560.0,1546.6 561.5,1538.2 563.5,1528.2 565.5,1520.7 567.5,1516.7 568.2,1516.4 569.5,1516.7 571.5,1518.3 573.5,1521.1 575.5,1525.2 577.5,1530.4 579.2,1535.6 579.5,1536.8 581.5,1553.9 583.5,1579.9 584.7,1596.0 585.5,1606.8 587.5,1637.5 589.5,1669.3 590.1,1678.3 591.5,1697.9 593.5,1724.8 595.5,1753.6 595.6,1755.2 597.5,1788.8 599.5,1824.5 600.0,1832.0 601.5,1852.1 603.5,1876.0 605.5,1897.6 606.6,1908.8 607.5,1918.1 609.5,1938.3 611.5,1954.7 612.1,1958.2 613.5,1965.5 615.5,1973.4 616.5,1974.7 617.5,1973.9 619.5,1967.9 621.5,1958.0 623.5,1946.1 624.2,1941.8 625.5,1932.2 627.5,1912.4 629.5,1889.9 631.3,1870.4 631.5,1868.4 633.5,1848.1 635.5,1827.7 637.5,1807.8 638.4,1799.1 639.5,1787.9 641.5,1766.5 643.5,1747.8 645.0,1738.7 645.5,1736.7 647.5,1729.0 649.5,1722.2 651.5,1716.8 653.5,1713.1 655.5,1711.4 656.0,1711.3 657.5,1712.2 659.5,1715.6 661.5,1721.0 663.5,1727.4 665.5,1734.1 667.0,1738.7 667.5,1740.2 669.5,1746.8 671.5,1754.1 673.5,1761.6 675.5,1769.0 677.5,1775.6 678.0,1777.1 679.5,1781.4 681.5,1786.9 683.5,1792.2 685.5,1797.1 687.5,1801.6 688.9,1804.6 689.5,1805.9 691.5,1810.4 693.5,1815.1 695.5,1819.2 697.5,1822.3 699.5,1823.8 699.9,1823.8 701.5,1823.2 703.5,1820.9 705.5,1817.2 707.5,1812.5 709.5,1807.1 711.5,1801.4 713.5,1795.7 715.5,1790.3 716.4,1788.1 717.5,1785.2 719.5,1779.0 721.5,1772.2 723.5,1765.4 725.5,1759.3 727.5,1754.8 729.5,1752.5 730.1,1752.4 731.5,1752.6 733.5,1753.7 735.5,1755.7 737.5,1758.3 739.5,1761.5 741.5,1765.2 743.5,1769.4 745.5,1773.8 747.5,1778.4 749.3,1782.6 749.5,1783.1 751.5,1789.1 753.5,1796.9 755.5,1805.6 757.5,1814.7 759.5,1823.3 760.3,1826.5 761.5,1831.5 763.5,1841.1 765.5,1851.0 767.5,1859.7 769.5,1865.7 771.3,1867.7 771.5,1867.7 773.5,1863.7 775.5,1854.8 777.5,1842.9 779.5,1830.2 781.5,1818.8 782.2,1815.5 783.5,1809.8 785.5,1800.8 787.5,1792.0 789.5,1783.8 791.5,1776.6 793.2,1771.6 793.5,1770.8 795.5,1765.3 797.5,1760.2 799.5,1756.5 801.4,1755.2 801.5,1755.2 803.5,1758.3 805.5,1765.2 807.5,1773.9 809.5,1781.9 809.7,1782.6 811.5,1789.3 813.5,1797.4 815.5,1804.7 817.5,1809.6 817.9,1810.1 819.5,1811.8 821.5,1813.6 823.5,1814.7 825.0,1815.0 825.5,1814.9 827.5,1811.8 829.5,1806.0 831.5,1798.7 833.5,1791.3 835.5,1785.4 837.1,1782.6 837.5,1782.2 839.5,1780.2 841.5,1778.7 843.5,1777.9 844.2,1777.8 845.5,1778.3 847.5,1780.6 849.5,1784.1 851.5,1788.1 851.6,1788.3 853.5,1793.1 855.5,1799.7 857.5,1806.8 858.9,1811.4 859.5,1813.4 861.5,1821.0 863.5,1828.7 865.5,1834.6 867.3,1836.6 867.5,1836.6 869.5,1835.2 871.5,1832.0 873.5,1827.4 875.5,1822.0 877.5,1816.4 877.8,1815.6 879.5,1809.5 881.5,1800.3 883.5,1792.2 884.1,1790.4 885.5,1786.8 887.5,1781.8 889.5,1777.3 891.5,1773.8 893.5,1771.8 894.6,1771.5 895.5,1771.7 897.5,1773.1 899.5,1775.6 901.5,1779.1 903.0,1782.0 903.5,1783.3 905.5,1792.6 907.5,1802.6 908.3,1805.1 909.5,1807.7 911.5,1811.8 913.5,1815.4 915.5,1818.2 917.5,1820.1 919.5,1820.9 919.8,1820.9 921.5,1820.4 923.5,1818.8 925.5,1816.4 927.5,1813.4 929.5,1810.2 931.5,1807.0 933.5,1804.2 934.5,1803.0 935.5,1801.9 937.5,1799.3 939.5,1796.7 941.5,1794.1 943.5,1791.7 945.5,1789.9 947.5,1788.7 949.2,1788.3 949.5,1788.3 951.5,1788.6 953.5,1789.2 955.5,1790.2 957.5,1791.5 959.5,1793.0 961.5,1794.6 963.5,1796.4 965.5,1798.3 966.0,1798.8 967.5,1800.9 969.5,1805.1 971.5,1810.0 973.5,1814.4 975.5,1817.2 976.6,1817.7 977.5,1817.6 979.5,1817.0 981.5,1815.7 983.5,1814.0 985.5,1812.0 987.5,1809.6 989.5,1807.1 991.5,1804.5 993.5,1802.0 994.4,1800.9 995.5,1799.4 997.5,1795.8 999.5,1791.7 1001.5,1787.7 1003.5,1784.6 1005.5,1783.1 1006.0,1783.0 1007.5,1783.5 1009.5,1785.3 1011.5,1788.0 1013.5,1791.1 1014.4,1792.5 1015.5,1794.5 1017.5,1799.6 1019.5,1805.5 1021.5,1811.0 1023.5,1814.7 1024.9,1815.6 1025.5,1815.6 1027.5,1815.3 1029.5,1814.6 1031.5,1813.6 1033.5,1812.3 1035.5,1810.8 1037.5,1809.1 1039.5,1807.3 1039.6,1807.2 1041.5,1804.1 1043.5,1798.7 1045.5,1792.7 1047.5,1787.5 1049.5,1784.4 1050.1,1784.1 1051.5,1783.8 1053.5,1783.5 1055.5,1783.3 1057.5,1783.1 1059.5,1783.0 1060.6,1783.0 1061.5,1783.2 1063.5,1785.3 1065.5,1788.7 1067.5,1793.0 1069.5,1797.3 1071.5,1800.9 1073.2,1803.0 1073.5,1803.3 1075.5,1804.9 1077.5,1806.6 1079.5,1808.1 1081.5,1809.6 1083.5,1811.0 1085.5,1812.2 1087.5,1813.3 1089.5,1814.2 1091.5,1814.9 1093.5,1815.3 1095.5,1815.6 1096.3,1815.6 1097.5,1815.5 1099.5,1814.9 1101.5,1813.9 1103.5,1812.5 1105.5,1810.7 1107.5,1808.6 1109.5,1806.3 1111.5,1803.7 1113.5,1801.0 1115.5,1798.3 1117.3,1795.7 1117.5,1795.4 1119.5,1790.8 1121.5,1784.7 1123.5,1778.7 1125.5,1774.5 1126.8,1773.6 1127.5,1773.6 1129.5,1774.3 1131.5,1775.5 1133.5,1777.3 1135.5,1779.5 1137.5,1782.1 1139.5,1784.9 1140.4,1786.2 1141.5,1788.4 1143.5,1794.7 1145.5,1802.6 1147.5,1810.6 1149.5,1817.1 1150.9,1819.8 1151.5,1820.6 1153.5,1823.0 1155.5,1825.1 1157.5,1826.7 1159.5,1827.8 1161.4,1828.2 1161.5,1828.2 1163.5,1827.1 1165.5,1824.3 1167.5,1820.3 1169.5,1815.6 1171.5,1810.7 1173.5,1806.1 1174.0,1805.1 1175.5,1801.6 1177.5,1796.0 1179.5,1790.2 1181.5,1785.4 1183.5,1782.4 1184.5,1782.0 1185.5,1782.1 1187.5,1783.1 1189.5,1784.9 1191.5,1787.2 1193.5,1789.8 1195.5,1792.5 1197.5,1795.1 1199.5,1797.3 1201.3,1798.8 1201.5,1798.9 1203.5,1800.3 1205.5,1801.7 1207.5,1803.1 1209.5,1804.4 1211.5,1805.6 1213.5,1806.7 1215.5,1807.7 1217.5,1808.5 1219.5,1809.0 1221.5,1809.3 1222.4,1809.3 1223.5,1809.0 1225.5,1807.5 1227.5,1805.3 1229.5,1803.0 1231.5,1801.3 1232.9,1800.9 1233.5,1800.9 1235.5,1801.1 1237.5,1801.4 1239.5,1802.0 1241.5,1802.6 1243.5,1803.2 1245.5,1803.9 1247.5,1804.6 1249.5,1805.2 1251.5,1805.7 1253.5,1806.0 1255.5,1806.2 1256.0,1806.2 1257.5,1806.1 1259.5,1805.5 1261.5,1804.6 1263.5,1803.4 1265.5,1802.1 1267.5,1800.8 1269.5,1799.5 1271.5,1798.3 1273.5,1797.4 1275.5,1796.8 1277.0,1796.7 1277.5,1796.7 1279.5,1797.1 1281.5,1797.9 1283.5,1799.1 1285.5,1800.6 1287.5,1802.2 1289.5,1804.0 1291.5,1805.7 1293.5,1807.4 1295.5,1808.8 1297.5,1810.1 1299.5,1810.9 1301.5,1811.4 1302.2,1811.4 1303.5,1811.4 1305.5,1811.4 1306.3,1811.4 1307.5,1811.2 1309.5,1810.3 1311.5,1808.7 1313.5,1806.8 1315.5,1804.8 1317.5,1803.0 1318.9,1802.0 1319.5,1801.6 1321.5,1800.3 1323.5,1798.9 1325.5,1797.5 1327.5,1796.1 1329.5,1794.8 1331.5,1793.7 1333.5,1792.7 1335.5,1792.0 1337.5,1791.6 1338.9,1791.5 1339.5,1791.6 1341.5,1792.6 1343.5,1794.3 1345.2,1795.7 1345.5,1795.9 1347.5,1797.8 1349.5,1800.1 1351.5,1802.6 1353.5,1805.1 1355.5,1807.3 1357.5,1809.1 1359.5,1810.2 1360.9,1810.4 1361.5,1810.4 1363.5,1810.1 1365.5,1809.6 1367.5,1808.9 1369.5,1808.0 1371.4,1807.2 1371.5,1807.2 1373.5,1805.9 1375.5,1804.0 1377.5,1801.8 1379.5,1799.5 1381.5,1797.1 1383.5,1795.1 1385.5,1793.5 1387.5,1792.6 1388.2,1792.5 1389.5,1792.4 1391.5,1792.3 1393.5,1792.2 1395.5,1792.1 1396.6,1792.1 1397.5,1792.2 1399.5,1793.0 1401.5,1794.5 1403.5,1796.4 1405.5,1798.5 1407.5,1800.5 1409.2,1802.0 1409.5,1802.3 1411.5,1804.3 1413.5,1806.3 1415.5,1807.2 1417.5,1807.1 1419.5,1806.9 1421.5,1806.6 1423.5,1806.2 1425.5,1805.8 1427.5,1805.2 1429.5,1804.6 1431.5,1804.0 1433.5,1803.3 1434.5,1803.0 1435.5,1802.6 1437.5,1801.4 1439.5,1799.9 1441.5,1798.3 1443.5,1796.9 1445.5,1796.0 1447.1,1795.7 1447.5,1795.7 1449.5,1795.7 1451.5,1795.8 1453.5,1795.9 1455.5,1796.0 1457.5,1796.1 1459.5,1796.3 1461.5,1796.5 1463.5,1796.7 1463.9,1796.7 1465.5,1797.1 1467.5,1798.2 1469.5,1799.7 1471.5,1801.5 1473.5,1803.3 1475.5,1804.9 1477.5,1806.3 1479.5,1807.1 1480.7,1807.2 1481.5,1807.2 1483.5,1807.1 1485.5,1806.9 1487.5,1806.7 1489.5,1806.4 1491.5,1806.0 1493.5,1805.6 1495.5,1805.1 1497.5,1804.6 1499.5,1804.1 1499.6,1804.1 1501.5,1803.4 1503.5,1802.3 1505.5,1800.9 1507.5,1799.6 1509.5,1798.3 1511.5,1797.3 1513.5,1796.8 1514.3,1796.7 1515.5,1796.8 1517.5,1797.3 1519.5,1798.1 1521.5,1799.2 1523.5,1800.3 1525.5,1801.4 1527.5,1802.3 1529.5,1802.8 1531.1,1803.0 1531.5,1803.0 1533.5,1802.9 1535.5,1802.6 1537.5,1802.3 1539.5,1801.9 1541.5,1801.5 1543.5,1801.0 1545.5,1800.6 1547.5,1800.3 1549.5,1800.0 1551.5,1799.9 1552.1,1799.9 1553.5,1800.0 1555.5,1800.3 1557.5,1800.8 1559.5,1801.4 1561.5,1802.2 1563.5,1803.0 1565.5,1803.9 1567.5,1804.7 1569.5,1805.5 1571.5,1806.2 1573.5,1806.8 1575.5,1807.1 1577.3,1807.2 1577.5,1807.2 1579.5,1806.8 1581.5,1805.9 1583.5,1804.7 1585.5,1803.1 1587.5,1801.5 1589.5,1799.8 1591.5,1798.3 1593.5,1797.0 1594.1,1796.7 1595.5,1796.0 1597.5,1794.9 1599.5,1793.8 1601.5,1792.8 1603.5,1792.0 1605.5,1791.6 1606.7,1791.5 1607.5,1791.6 1609.5,1792.3 1611.5,1793.7 1613.5,1795.5 1615.5,1797.6 1617.5,1799.8 1619.5,1801.9 1621.5,1803.8 1623.5,1805.1 1625.5,1806.2 1627.5,1807.3 1629.5,1808.2 1631.5,1808.9 1633.5,1809.3 1634.0,1809.3 1635.5,1809.2 1637.5,1808.7 1639.5,1807.8 1641.5,1806.8 1643.5,1805.6 1645.5,1804.3 1647.5,1803.1 1649.5,1802.1 1651.5,1801.3 1652.9,1800.9 1653.5,1800.8 1655.5,1800.4 1657.5,1800.0 1659.5,1799.6 1661.5,1799.2 1663.5,1798.9 1665.5,1798.6 1667.5,1798.3 1669.5,1798.1 1671.5,1798.0 1673.5,1797.9 1675.5,1797.8 1676.0,1797.8 1677.5,1797.9 1679.5,1798.3 1681.5,1799.0 1683.5,1799.9 1685.5,1801.0 1687.5,1802.2 1689.5,1803.4 1691.5,1804.7 1693.5,1805.9 1695.5,1807.0 1697.5,1807.9 1699.5,1808.7 1701.5,1809.1 1703.4,1809.3 1703.5,1809.3 1705.5,1808.9 1707.5,1808.0 1709.5,1806.6 1711.5,1804.9 1713.5,1802.9 1715.5,1800.9 1717.5,1798.9 1719.5,1797.1 1721.5,1795.5 1723.5,1794.3 1725.5,1793.7 1726.5,1793.6 1727.5,1793.7 1729.5,1794.4 1731.5,1795.5 1733.5,1797.1 1735.5,1799.0 1737.5,1800.9 1739.5,1802.8 1741.5,1804.5 1743.5,1805.9 1745.5,1806.9 1747.5,1807.2 1749.5,1807.1 1751.5,1806.8 1753.5,1806.3 1755.5,1805.7 1757.5,1804.9 1759.5,1804.1 1761.5,1803.3 1763.5,1802.4 1765.5,1801.6 1767.5,1800.8 1769.5,1800.1 1771.5,1799.5 1773.5,1799.1 1775.5,1798.9 1776.9,1798.8 1777.5,1798.8 1779.5,1798.9 1781.5,1799.1 1783.5,1799.5 1785.5,1799.9 1787.5,1800.5 1789.0,1800.9" fill="none" stroke="#437cab" stroke-width="4.6" stroke-dasharray="36.5 14 10 15.5" stroke-linejoin="round"/></g>
<text x="371.50" y="2370.3" font-size="67" text-anchor="middle">0</text>
<text x="725.88" y="2370.3" font-size="67" text-anchor="middle">50</text>
<text x="1080.25" y="2370.3" font-size="67" text-anchor="middle">100</text>
<text x="1434.62" y="2370.3" font-size="67" text-anchor="middle">150</text>
<text x="1789.00" y="2370.3" font-size="67" text-anchor="middle">200</text>
<text x="348.00" y="2317.40" font-size="67" text-anchor="end">−1.5</text>
<text x="348.00" y="2152.08" font-size="67" text-anchor="end">−1.0</text>
<text x="348.00" y="1986.77" font-size="67" text-anchor="end">−0.5</text>
<text x="348.00" y="1821.45" font-size="67" text-anchor="end">0</text>
<text x="348.00" y="1656.13" font-size="67" text-anchor="end">0.5</text>
<text x="348.00" y="1490.82" font-size="67" text-anchor="end">1.0</text>
<text x="348.00" y="1325.50" font-size="67" text-anchor="end">1.5</text>
<text x="1080.25" y="2468.1" font-size="67" text-anchor="middle">Time/ms</text>
<text transform="translate(161.70,1801.45) rotate(-90)" font-size="67" text-anchor="middle"><tspan font-style="italic">v</tspan><tspan font-size="39" dy="15" font-style="italic">z</tspan><tspan dy="-15">/(cm·s</tspan><tspan font-size="38" dy="-22.6">−1</tspan><tspan dy="22.6">)</tspan></text>
<text x="402.5" y="1383.20" font-size="67">(c)</text>
<path d="M967.9,1359.7H1149.1" stroke="#ee7d3a" stroke-width="4.8" stroke-dasharray="22.3 17.2"/>
<path d="M973.3,1450.4H1149.1" stroke="#437cab" stroke-width="4.6" stroke-dasharray="30.4 16.8 5.4 17.2"/>
<text x="1173.0" y="1383.2" font-size="67">Numerical simulation</text>
<text x="1173.0" y="1472.7" font-size="67">Field test</text>
<rect x="2255.9" y="1305.5" width="1417.5" height="991.9000000000001" fill="none" stroke="#2b2a2b" stroke-width="4.6"/>
<path d="M2255.90,2297.40V2278.10M2610.28,2297.40V2278.10M2964.65,2297.40V2278.10M3319.03,2297.40V2278.10M3673.40,2297.40V2278.10M2255.90,2297.40H2275.20M2255.90,2099.02H2275.20M2255.90,1900.64H2275.20M2255.90,1702.26H2275.20M2255.90,1503.88H2275.20M2255.90,1305.50H2275.20" stroke="#2b2a2b" stroke-width="4.1" fill="none"/>
<g><polyline points="2255.9,2297.4 2257.9,2297.4 2259.9,2297.4 2261.9,2297.4 2263.9,2297.4 2265.9,2297.4 2267.9,2297.4 2269.9,2297.4 2271.9,2297.4 2273.9,2297.4 2275.9,2297.4 2277.9,2297.4 2279.9,2297.4 2281.9,2297.4 2283.9,2297.4 2285.9,2297.4 2287.9,2297.4 2289.9,2297.4 2291.9,2297.4 2293.9,2297.4 2295.9,2297.4 2297.9,2297.4 2299.9,2297.4 2301.9,2297.4 2303.9,2297.4 2305.9,2297.4 2307.9,2297.4 2309.9,2297.4 2311.9,2297.4 2313.9,2297.4 2315.9,2297.4 2317.9,2297.4 2319.9,2297.4 2321.9,2297.4 2323.9,2297.4 2325.9,2297.4 2327.9,2297.4 2329.9,2297.4 2331.9,2297.4 2333.9,2297.4 2335.9,2297.4 2337.9,2297.4 2339.9,2297.4 2341.9,2297.4 2343.9,2297.4 2345.9,2297.4 2347.9,2297.4 2349.9,2297.4 2351.9,2297.4 2353.9,2297.4 2355.9,2297.4 2357.0,2297.4 2357.9,2297.1 2359.9,2295.0 2361.9,2291.3 2363.9,2286.7 2365.8,2282.2 2365.9,2282.0 2367.9,2276.1 2368.5,2274.2 2369.9,2270.2 2371.9,2264.7 2373.9,2258.2 2375.2,2252.8 2375.9,2248.8 2377.9,2234.0 2379.9,2221.6 2381.9,2209.8 2383.9,2195.7 2385.0,2192.0 2385.9,2192.3 2387.9,2195.0 2389.0,2197.0 2389.9,2199.5 2391.9,2208.6 2392.6,2212.0 2393.9,2220.7 2395.5,2228.0 2395.9,2227.0 2397.9,2201.7 2398.0,2200.0 2399.3,2164.3 2399.9,2155.1 2400.7,2142.8 2401.9,2103.4 2402.0,2100.0 2403.4,2054.3 2403.9,2035.9 2404.3,2020.0 2405.2,1980.0 2405.9,1944.3 2406.0,1940.0 2407.4,1893.4 2407.9,1876.8 2408.7,1850.0 2409.9,1806.7 2410.1,1800.0 2411.4,1761.6 2411.9,1743.9 2412.7,1716.0 2413.9,1684.5 2414.1,1681.1 2415.4,1667.7 2415.9,1673.7 2416.8,1694.5 2417.9,1707.4 2418.9,1721.3 2419.8,1750.0 2419.9,1753.5 2420.8,1788.4 2421.6,1828.6 2421.9,1845.6 2422.6,1882.0 2423.9,1916.1 2424.5,1925.0 2425.9,1937.9 2427.0,1942.0 2427.9,1938.5 2429.5,1920.0 2429.9,1911.3 2431.0,1870.0 2431.9,1824.1 2432.3,1800.0 2433.4,1721.3 2433.9,1690.2 2434.2,1673.1 2435.0,1632.9 2435.5,1587.3 2435.9,1563.4 2436.3,1547.0 2437.9,1508.9 2438.8,1501.5 2439.9,1505.4 2441.9,1528.8 2442.2,1533.6 2443.6,1587.3 2443.9,1611.1 2444.1,1627.5 2444.9,1673.1 2445.5,1716.0 2445.9,1732.1 2446.8,1761.6 2447.6,1801.8 2447.9,1819.0 2448.4,1847.4 2449.5,1895.7 2449.9,1907.1 2451.9,1948.3 2452.0,1950.0 2453.9,1982.1 2455.0,1990.0 2455.9,1988.4 2457.9,1975.9 2458.0,1975.0 2459.9,1916.5 2460.5,1900.0 2461.9,1874.2 2463.0,1865.0 2463.9,1865.5 2465.9,1869.7 2466.0,1870.0 2467.9,1896.8 2469.0,1920.0 2469.9,1940.5 2471.5,1980.0 2471.9,1988.5 2473.9,2027.5 2474.0,2029.5 2475.9,2068.8 2477.6,2100.0 2477.9,2104.7 2479.9,2137.4 2481.9,2155.0 2482.0,2155.0 2483.9,2152.1 2485.9,2147.1 2487.0,2146.0 2487.9,2146.2 2489.9,2147.7 2491.9,2149.9 2492.0,2150.0 2493.9,2153.0 2495.9,2157.3 2497.9,2161.2 2499.9,2163.0 2500.0,2163.0 2501.9,2156.7 2503.9,2142.3 2505.9,2128.8 2507.0,2125.0 2507.9,2123.6 2509.9,2121.1 2511.9,2120.0 2512.0,2120.0 2513.9,2128.6 2515.9,2146.8 2517.9,2159.8 2518.0,2160.0 2519.9,2163.9 2521.9,2166.8 2523.9,2168.0 2524.0,2168.0 2525.9,2163.2 2527.9,2151.3 2529.9,2138.5 2531.9,2130.5 2532.5,2130.0 2533.9,2132.8 2535.9,2142.5 2536.0,2143.0 2537.9,2159.1 2539.9,2179.2 2540.0,2180.0 2541.9,2194.9 2543.9,2208.7 2545.0,2215.0 2545.9,2219.7 2547.9,2230.3 2549.9,2239.8 2551.9,2246.2 2553.5,2248.0 2553.9,2247.5 2555.9,2236.7 2557.7,2229.0 2557.9,2228.9 2559.9,2228.2 2561.9,2227.6 2563.9,2227.3 2565.9,2227.1 2567.9,2227.0 2568.0,2227.0 2569.9,2230.0 2571.9,2237.1 2573.9,2244.4 2574.5,2246.0 2575.9,2249.4 2577.9,2254.3 2579.9,2259.0 2581.9,2262.9 2583.9,2265.9 2585.0,2267.0 2585.9,2267.7 2587.9,2268.8 2589.9,2269.7 2591.9,2270.4 2593.9,2271.1 2595.9,2272.0 2597.6,2273.0 2597.9,2273.2 2599.9,2275.3 2601.9,2277.8 2603.9,2280.2 2605.9,2281.6 2606.0,2281.6 2607.9,2282.1 2609.9,2282.5 2611.9,2282.8 2613.9,2283.0 2615.0,2283.0 2615.9,2282.9 2617.9,2282.3 2619.9,2281.3 2621.9,2280.3 2623.9,2279.6 2625.0,2279.5 2625.9,2280.0 2627.9,2283.2 2629.9,2286.9 2631.3,2288.0 2631.9,2287.8 2633.9,2285.7 2635.9,2282.7 2637.0,2281.6 2637.9,2281.0 2639.9,2279.7 2641.9,2278.4 2643.9,2277.3 2645.9,2276.2 2647.9,2275.3 2649.9,2274.4 2651.9,2273.7 2653.9,2273.0 2655.9,2272.5 2657.9,2272.1 2658.6,2272.0 2659.9,2271.8 2661.9,2271.6 2663.9,2271.4 2665.9,2271.2 2667.9,2271.1 2669.9,2270.9 2671.9,2270.8 2673.9,2270.7 2675.9,2270.5 2677.9,2270.4 2679.9,2270.2 2681.7,2270.0 2681.9,2270.0 2683.9,2269.7 2685.9,2269.3 2687.9,2268.8 2689.9,2268.3 2691.9,2267.8 2693.9,2267.4 2695.9,2267.2 2697.9,2267.0 2698.5,2267.0 2699.9,2269.3 2701.9,2275.1 2702.7,2276.0 2703.9,2274.6 2705.9,2269.3 2707.9,2266.0 2709.9,2266.2 2711.9,2266.7 2713.9,2267.5 2715.9,2268.5 2717.9,2269.9 2719.9,2271.5 2721.6,2273.0 2721.9,2273.4 2723.9,2279.0 2725.9,2286.4 2727.9,2290.0 2729.9,2289.9 2731.9,2289.6 2733.9,2289.0 2735.9,2288.3 2737.9,2287.4 2739.9,2286.3 2740.5,2286.0 2741.9,2284.2 2743.9,2279.7 2745.9,2275.8 2746.8,2275.0 2747.9,2274.7 2749.9,2274.1 2751.9,2273.7 2753.9,2273.4 2755.9,2273.2 2757.9,2273.0 2759.4,2273.0 2759.9,2273.4 2761.9,2279.9 2763.6,2284.0 2763.9,2284.1 2765.9,2284.6 2767.9,2284.9 2769.9,2285.0 2770.0,2285.0 2771.9,2283.8 2773.9,2280.7 2775.9,2277.4 2777.9,2275.1 2778.0,2275.0 2779.9,2273.9 2781.9,2273.0 2783.9,2272.3 2785.9,2272.0 2786.0,2272.0 2787.9,2274.1 2789.9,2278.9 2791.9,2283.1 2793.0,2284.0 2793.9,2284.1 2795.9,2284.3 2797.9,2284.4 2799.9,2284.5 2801.9,2284.5 2803.9,2284.6 2805.9,2284.7 2807.9,2284.8 2809.9,2285.0 2810.0,2285.0 2811.9,2285.6 2813.9,2286.9 2815.9,2288.3 2817.9,2289.5 2819.9,2290.0 2820.0,2290.0 2821.9,2288.9 2823.9,2286.0 2825.9,2282.7 2827.9,2280.4 2829.0,2280.0 2829.9,2280.1 2831.9,2280.7 2833.9,2281.7 2835.9,2282.9 2837.9,2284.2 2839.9,2285.2 2841.9,2285.9 2843.0,2286.0 2843.9,2285.4 2845.9,2281.2 2847.9,2275.8 2849.9,2273.0 2850.0,2273.0 2851.9,2274.0 2853.9,2276.7 2855.9,2280.3 2857.9,2283.9 2859.9,2286.8 2861.9,2288.0 2862.0,2288.0 2863.9,2286.3 2865.9,2282.2 2867.9,2278.0 2869.9,2276.0 2870.0,2276.0 2871.9,2276.1 2873.9,2276.2 2875.9,2276.5 2877.9,2276.8 2879.0,2277.0 2879.9,2277.2 2881.9,2278.1 2883.9,2279.4 2885.9,2280.6 2887.9,2281.6 2889.9,2282.0 2890.0,2282.0 2891.9,2280.1 2893.9,2276.3 2895.9,2274.0 2896.0,2274.0 2897.9,2275.9 2899.9,2279.7 2901.9,2282.0 2902.0,2282.0 2903.9,2281.7 2905.9,2280.8 2907.9,2279.6 2909.9,2278.2 2911.9,2276.9 2913.9,2275.8 2915.9,2275.1 2917.0,2275.0 2917.9,2275.1 2919.9,2276.0 2921.9,2277.4 2923.9,2279.1 2925.0,2280.0 2925.9,2280.8 2927.9,2283.4 2929.9,2285.8 2931.9,2287.0 2932.0,2287.0 2933.9,2285.7 2935.9,2282.3 2937.9,2278.1 2939.9,2274.6 2941.9,2273.0 2942.0,2273.0 2943.9,2274.1 2945.9,2276.7 2947.9,2279.9 2948.0,2280.0 2949.9,2284.3 2951.9,2289.0 2953.0,2290.0 2953.9,2289.9 2955.9,2289.0 2957.9,2287.3 2959.9,2285.2 2961.9,2282.9 2963.9,2280.7 2965.9,2278.8 2967.9,2277.6 2969.6,2277.2 2969.9,2277.3 2971.9,2281.0 2973.9,2286.8 2975.9,2290.0 2976.0,2290.0 2977.9,2289.6 2979.9,2288.8 2981.9,2287.8 2983.9,2287.0 2984.0,2287.0 2985.9,2286.7 2987.9,2286.4 2989.9,2286.2 2991.9,2286.0 2993.9,2285.8 2995.9,2285.4 2996.7,2285.2 2997.9,2284.6 2999.9,2282.6 3001.9,2279.8 3003.9,2277.0 3005.9,2274.9 3007.9,2274.0 3009.9,2274.7 3011.9,2276.4 3013.9,2278.8 3015.9,2281.5 3017.9,2283.9 3019.9,2285.9 3021.9,2286.8 3022.3,2286.8 3023.9,2286.1 3025.9,2283.6 3027.9,2280.3 3029.9,2277.0 3031.9,2274.6 3033.4,2274.0 3033.9,2274.0 3035.9,2274.8 3037.9,2276.2 3039.9,2278.1 3041.9,2280.1 3043.9,2281.9 3045.9,2283.1 3047.8,2283.6 3047.9,2283.6 3049.9,2282.5 3051.9,2280.3 3053.9,2278.1 3055.8,2277.2 3055.9,2277.2 3057.9,2280.0 3059.9,2285.1 3061.9,2288.3 3062.2,2288.4 3063.9,2288.2 3065.9,2287.5 3067.9,2286.3 3069.9,2285.0 3071.9,2283.5 3073.9,2282.0 3075.9,2280.7 3077.9,2279.6 3079.9,2278.9 3081.3,2278.8 3081.9,2279.4 3083.9,2286.9 3085.9,2293.1 3086.1,2293.2 3087.9,2292.4 3089.9,2290.2 3091.9,2287.4 3093.9,2285.1 3095.9,2284.0 3096.0,2284.0 3097.9,2284.6 3099.9,2286.1 3101.9,2288.2 3103.9,2290.4 3105.9,2292.2 3107.9,2293.1 3108.5,2293.2 3109.9,2291.6 3111.9,2286.2 3113.9,2281.2 3114.9,2280.4 3115.9,2280.5 3117.9,2281.1 3119.9,2282.3 3121.9,2283.8 3123.9,2285.5 3125.9,2287.3 3127.9,2288.9 3129.9,2290.3 3131.9,2291.2 3133.9,2291.6 3134.0,2291.6 3135.9,2288.9 3137.9,2283.1 3139.9,2279.0 3140.4,2278.8 3141.9,2278.8 3143.9,2279.0 3145.9,2279.4 3147.9,2279.7 3149.9,2280.2 3151.9,2280.7 3153.9,2281.1 3155.9,2281.5 3157.9,2281.8 3159.9,2282.0 3161.2,2282.0 3161.9,2281.7 3163.9,2278.7 3165.9,2276.4 3166.0,2276.4 3167.9,2279.3 3169.9,2285.4 3171.9,2289.8 3172.4,2290.0 3173.9,2289.8 3175.9,2289.2 3177.9,2288.1 3179.9,2286.7 3181.9,2285.2 3183.9,2283.8 3185.9,2282.4 3187.9,2281.3 3189.9,2280.6 3191.5,2280.4 3191.9,2280.5 3193.9,2282.3 3195.9,2285.4 3197.9,2288.6 3199.5,2290.0 3199.9,2290.2 3201.9,2291.0 3203.9,2291.7 3205.9,2292.4 3207.9,2293.0 3209.9,2293.5 3211.9,2294.0 3213.9,2294.3 3215.9,2294.6 3217.9,2294.7 3219.9,2294.8 3220.3,2294.8 3221.9,2293.8 3223.9,2290.7 3225.9,2286.7 3227.9,2283.3 3229.8,2282.0 3229.9,2282.0 3231.9,2282.0 3233.9,2282.0 3235.9,2282.0 3237.9,2282.0 3239.9,2282.0 3241.9,2282.0 3243.9,2282.0 3245.9,2282.0 3247.9,2282.0 3249.0,2282.0 3249.9,2282.0 3251.9,2282.1 3253.9,2282.4 3255.9,2282.7 3257.9,2283.1 3259.9,2283.5 3261.9,2283.9 3263.9,2284.4 3265.9,2284.8 3267.9,2285.2 3268.2,2285.2 3269.9,2285.5 3271.9,2285.9 3273.9,2286.3 3275.9,2286.7 3277.9,2287.1 3279.9,2287.5 3281.9,2287.8 3283.9,2288.1 3285.9,2288.3 3287.9,2288.4 3288.9,2288.4 3289.9,2288.2 3291.9,2286.5 3293.9,2284.2 3295.9,2281.8 3297.9,2280.5 3298.5,2280.4 3299.9,2281.6 3301.9,2285.6 3303.9,2289.4 3304.9,2290.0 3305.9,2290.0 3307.9,2289.9 3309.9,2289.7 3311.9,2289.5 3313.9,2289.3 3315.9,2289.0 3317.9,2288.8 3319.9,2288.6 3321.9,2288.5 3323.9,2288.4 3324.0,2288.4 3325.9,2289.1 3327.9,2290.7 3329.9,2292.4 3331.9,2293.2 3332.0,2293.2 3333.9,2291.3 3335.9,2288.0 3337.1,2287.1 3337.9,2287.1 3339.9,2287.2 3341.9,2287.5 3343.9,2287.8 3345.9,2288.1 3347.9,2288.5 3349.9,2288.9 3351.9,2289.1 3353.9,2289.3 3355.8,2289.4 3355.9,2289.4 3357.9,2288.4 3359.9,2286.4 3361.9,2284.6 3363.5,2284.0 3363.9,2284.0 3365.9,2285.1 3367.9,2287.1 3369.9,2289.5 3371.9,2291.7 3373.9,2293.1 3374.4,2293.3 3375.9,2293.6 3377.9,2294.0 3379.9,2294.4 3381.9,2294.7 3383.9,2294.9 3385.9,2295.2 3387.9,2295.3 3389.9,2295.5 3391.9,2295.6 3393.9,2295.6 3394.6,2295.6 3395.9,2295.0 3397.9,2292.5 3399.9,2289.4 3401.9,2287.3 3402.4,2287.1 3403.9,2286.8 3405.9,2286.4 3407.9,2286.0 3409.9,2285.7 3411.9,2285.4 3413.9,2285.2 3415.9,2285.0 3417.9,2284.9 3419.9,2284.8 3421.9,2284.7 3423.9,2284.7 3424.2,2284.7 3425.9,2285.2 3427.9,2286.9 3429.9,2289.1 3431.9,2291.5 3433.9,2293.6 3435.9,2294.7 3436.6,2294.8 3437.9,2294.2 3439.9,2291.8 3441.9,2289.7 3442.8,2289.4 3443.9,2289.4 3445.9,2289.5 3447.9,2289.7 3449.9,2289.9 3451.9,2290.2 3453.9,2290.5 3455.9,2290.8 3457.9,2291.0 3459.9,2291.3 3461.9,2291.5 3463.9,2291.6 3465.9,2291.7 3466.1,2291.7 3467.9,2290.5 3469.9,2287.7 3471.9,2285.6 3472.4,2285.5 3473.9,2285.9 3475.9,2287.2 3477.9,2288.9 3479.9,2290.1 3480.1,2290.2 3481.9,2290.8 3483.9,2291.4 3485.9,2292.0 3487.9,2292.6 3489.9,2293.0 3491.9,2293.4 3493.9,2293.8 3495.9,2294.0 3497.9,2294.1 3498.8,2294.1 3499.9,2294.0 3501.9,2293.5 3503.9,2292.6 3505.9,2291.5 3507.9,2290.3 3509.9,2289.1 3511.9,2288.1 3513.9,2287.4 3515.9,2287.1 3517.9,2287.5 3519.9,2288.4 3521.9,2289.6 3523.9,2290.7 3525.9,2291.5 3526.8,2291.7 3527.9,2291.8 3529.9,2292.1 3531.9,2292.3 3533.9,2292.5 3535.9,2292.6 3537.9,2292.8 3539.9,2292.9 3541.9,2293.0 3543.9,2293.1 3545.9,2293.2 3547.9,2293.3 3549.9,2293.3 3551.7,2293.3 3551.9,2293.3 3553.9,2291.7 3555.9,2289.1 3557.9,2287.8 3559.9,2288.6 3561.9,2290.2 3563.9,2291.8 3565.6,2292.5 3565.9,2292.5 3567.9,2292.7 3569.9,2292.8 3571.9,2292.9 3573.9,2293.0 3575.9,2293.1 3577.9,2293.1 3579.9,2293.2 3581.9,2293.2 3583.9,2293.3 3585.9,2293.3 3587.9,2293.3 3589.0,2293.3 3589.9,2293.2 3591.9,2292.3 3593.9,2291.1 3595.9,2290.3 3596.7,2290.2 3597.9,2290.3 3599.9,2291.0 3601.9,2291.9 3603.9,2293.0 3605.9,2294.0 3607.9,2294.7 3609.2,2294.8 3609.9,2294.8 3611.9,2294.6 3613.9,2294.2 3615.9,2293.6 3617.9,2293.0 3619.9,2292.3 3621.9,2291.6 3623.9,2291.0 3625.9,2290.6 3627.9,2290.3 3629.4,2290.2 3629.9,2290.3 3631.9,2291.8 3633.9,2294.0 3635.6,2294.8 3635.9,2294.8 3637.9,2293.1 3639.9,2290.6 3641.8,2289.4 3641.9,2289.4 3643.9,2289.5 3645.9,2289.6 3647.9,2289.9 3649.9,2290.2 3651.9,2290.6 3653.9,2290.9 3655.9,2291.2 3657.9,2291.5 3659.9,2291.6 3661.9,2291.7 3662.0,2291.7 3663.9,2291.6 3665.9,2291.5 3667.9,2291.2 3669.9,2290.8 3671.9,2290.4 3673.4,2290.0" fill="none" stroke="#ee7d3a" stroke-width="4.6" stroke-dasharray="23.8 19.9" stroke-linejoin="round"/><polyline points="2255.9,2297.4 2257.9,2297.4 2259.9,2297.4 2261.9,2297.4 2263.9,2297.4 2265.9,2297.4 2267.9,2297.4 2269.9,2297.4 2271.9,2297.4 2273.9,2297.4 2275.9,2297.4 2277.9,2297.4 2279.9,2297.4 2281.9,2297.4 2283.9,2297.4 2285.9,2297.4 2287.9,2297.4 2289.9,2297.4 2291.9,2297.4 2293.9,2297.4 2295.0,2297.4 2295.9,2293.1 2297.4,2279.6 2297.9,2276.6 2299.9,2265.9 2300.5,2262.0 2301.9,2251.0 2302.8,2240.0 2303.9,2205.9 2304.1,2201.8 2305.9,2185.5 2306.8,2177.7 2307.9,2163.3 2309.0,2145.5" fill="none" stroke="#437cab" stroke-width="4.6" stroke-dasharray="36.5 14 10 15.5" stroke-linejoin="round"/><polyline points="2326.9,2071.7 2328.9,2048.2 2329.6,2038.2 2330.9,2016.0 2331.0,2014.1 2332.9,1979.0 2333.6,1960.5 2334.9,1894.2 2335.0,1888.0 2336.3,1788.4 2336.9,1747.6 2337.7,1707.9 2338.9,1687.6 2339.0,1686.5 2340.9,1667.7 2342.2,1662.4 2342.9,1664.1 2344.9,1682.0 2345.7,1691.8 2346.9,1714.9 2347.0,1716.0 2348.9,1727.6 2350.9,1736.2 2351.1,1737.4 2352.9,1750.1 2354.9,1765.5 2355.1,1766.9 2356.9,1782.3 2357.8,1785.7 2358.9,1766.1 2359.1,1761.6 2360.5,1729.4 2360.9,1724.6 2362.9,1707.6 2363.1,1705.3 2364.9,1672.7 2365.8,1654.3 2366.9,1631.7 2367.2,1627.5 2368.9,1610.8 2370.6,1603.4 2370.9,1604.4 2372.5,1630.2 2372.9,1640.9 2373.9,1673.1 2374.9,1688.8 2376.0,1707.9 2376.9,1751.6 2377.1,1761.6 2378.7,1828.6 2378.9,1834.9 2380.6,1882.2 2380.9,1900.3 2381.4,1933.6 2382.9,1980.5 2383.2,1987.3 2384.9,2019.5 2385.9,2032.9 2386.9,2044.0 2388.9,2061.7 2390.0,2065.0 2390.9,2064.3 2392.9,2057.8 2394.0,2051.6 2394.9,2038.8 2395.3,2027.5 2395.8,1987.3 2396.6,1947.0 2396.9,1939.4 2398.0,1920.2 2398.9,1902.6 2399.3,1896.1 2400.9,1877.3 2401.8,1870.0 2402.9,1862.9 2404.9,1853.1 2405.9,1851.5 2406.9,1852.8 2408.9,1861.1 2410.9,1872.0 2412.2,1877.7 2412.9,1880.2 2414.9,1887.2 2416.9,1892.5 2417.5,1893.4 2418.9,1894.7 2420.9,1895.9 2422.9,1896.9 2424.8,1898.8 2424.9,1898.9 2426.9,1906.3 2428.9,1919.1 2430.2,1928.3 2430.9,1933.3 2432.9,1952.4 2434.2,1976.5 2434.9,1984.0 2436.9,1999.4 2438.2,2008.7 2438.9,2013.8 2440.9,2030.2 2442.2,2054.3 2442.9,2070.0 2443.6,2083.8 2444.9,2097.0 2446.3,2110.6 2446.9,2123.6 2447.6,2134.8 2448.9,2127.4 2450.3,2113.3 2450.9,2108.4 2452.9,2090.4 2453.0,2089.2 2454.3,2067.7 2454.9,2060.5 2456.9,2041.7 2457.0,2040.9 2458.9,2027.4 2460.9,2014.8 2461.0,2014.1 2462.9,2001.4 2464.9,1988.0 2465.0,1987.3 2466.9,1972.0 2467.7,1968.5 2468.9,1966.7 2470.4,1965.8 2470.9,1967.5 2472.9,1990.5 2473.1,1992.6 2474.9,2008.8 2475.8,2019.4 2476.9,2042.0 2477.1,2046.3 2478.4,2073.1 2478.9,2080.5 2479.8,2094.5 2480.6,2121.4 2480.9,2127.2 2482.5,2148.2 2482.9,2153.3 2484.9,2174.7 2485.1,2175.0 2486.9,2171.1 2488.9,2162.7 2489.2,2161.6 2490.9,2155.8 2491.9,2150.9 2492.9,2140.5 2493.7,2130.3 2494.9,2116.8 2495.8,2107.2 2496.9,2094.0 2497.9,2087.3 2498.9,2087.8 2500.9,2091.5 2502.9,2098.0 2503.1,2098.8 2504.9,2117.2 2505.2,2119.8 2506.9,2132.5 2508.9,2145.6 2510.9,2152.9 2511.5,2153.4 2512.9,2151.2 2514.9,2143.3 2516.9,2134.5 2518.9,2130.3 2520.9,2132.6 2522.9,2138.1 2523.1,2138.7 2524.9,2152.1 2526.2,2161.8 2526.9,2164.5 2528.9,2170.2 2530.4,2174.5 2530.9,2176.4 2532.9,2186.5 2534.9,2194.6 2535.7,2195.5 2536.9,2193.4 2538.9,2183.9 2540.9,2174.5 2542.9,2167.4 2544.9,2161.0 2546.9,2157.7 2547.2,2157.6 2548.9,2158.7 2550.9,2162.2 2552.9,2166.8 2553.5,2168.2 2554.9,2173.1 2556.9,2182.1 2558.8,2187.1 2558.9,2187.2 2560.9,2188.1 2562.9,2188.8 2564.9,2189.1 2566.1,2189.2 2566.9,2188.9 2568.9,2186.3 2570.9,2181.3 2572.4,2176.6 2572.9,2174.3 2574.9,2157.6 2576.6,2142.9 2576.9,2140.9 2578.9,2126.6 2580.8,2119.8 2580.9,2119.8 2582.9,2120.4 2584.9,2121.8 2585.0,2121.9 2586.9,2126.1 2588.9,2133.4 2589.2,2134.5 2590.9,2143.5 2592.9,2152.8 2593.4,2153.4 2594.9,2148.5 2596.9,2134.9 2598.7,2128.2 2598.9,2128.2 2600.9,2128.4 2602.9,2129.0 2604.9,2130.0 2606.9,2131.3 2608.2,2132.4 2608.9,2134.1 2610.9,2146.9 2612.9,2162.9 2613.4,2166.0 2614.9,2175.6 2616.9,2186.1 2617.6,2187.1 2618.9,2185.4 2620.9,2177.5 2622.9,2166.0 2624.9,2144.5 2626.0,2132.4 2626.9,2126.0 2628.9,2112.5 2629.2,2109.3 2630.2,2088.3 2630.9,2088.7 2632.9,2094.6 2634.4,2103.0 2634.9,2109.4 2635.5,2120.9 2636.5,2142.9 2636.9,2148.3 2638.6,2166.0 2638.9,2169.8 2640.7,2195.5 2640.9,2198.9 2641.8,2214.4 2642.9,2227.8 2644.9,2246.6 2646.0,2250.1 2646.9,2245.2 2648.1,2229.1 2648.9,2208.6 2649.1,2203.9 2650.9,2174.0 2651.2,2170.3 2652.9,2155.0 2653.3,2151.3 2654.9,2130.6 2655.4,2128.2 2656.9,2129.6 2658.9,2134.5 2659.6,2136.6 2660.9,2142.3 2662.9,2155.5 2663.8,2161.8 2664.9,2169.8 2666.5,2182.9 2666.9,2186.7 2668.9,2206.9 2669.1,2208.1 2670.9,2216.2 2672.2,2218.6 2672.9,2217.9 2674.9,2210.3 2676.9,2201.0 2678.5,2197.6 2678.9,2197.6 2680.9,2198.8 2682.9,2201.1 2684.9,2204.4 2686.9,2208.1 2688.0,2210.2 2688.9,2212.5 2690.9,2220.1 2692.9,2227.2 2694.3,2229.1 2694.9,2228.7 2696.9,2222.6 2698.9,2214.3 2699.5,2212.3 2700.9,2207.5 2702.9,2200.6 2704.8,2197.6 2704.9,2197.6 2706.9,2198.2 2708.9,2199.9 2710.9,2202.4 2712.9,2205.5 2713.2,2206.0 2714.9,2211.4 2716.9,2221.5 2718.4,2229.1 2718.9,2231.6 2720.9,2243.5 2722.9,2254.3 2724.7,2258.5 2724.9,2258.5 2726.9,2255.7 2728.9,2249.9 2730.9,2243.2 2732.1,2239.6 2732.9,2237.5 2734.9,2231.9 2736.9,2226.2 2738.9,2220.7 2740.5,2216.5 2740.9,2215.5 2742.9,2209.6 2744.9,2203.5 2746.9,2198.2 2748.9,2194.9 2750.0,2194.4 2750.9,2194.8 2752.9,2198.1 2754.9,2203.1 2755.2,2203.9 2756.9,2210.2 2758.9,2220.3 2759.4,2222.8 2760.9,2232.2 2762.9,2247.1 2764.9,2257.4 2765.7,2258.5 2766.9,2255.8 2768.9,2244.8 2769.9,2239.6 2770.9,2235.3 2772.9,2226.5 2774.9,2219.4 2775.2,2218.6 2776.9,2214.2 2778.9,2209.2 2780.9,2204.9 2782.9,2201.6 2784.9,2199.9 2785.7,2199.7 2786.9,2200.7 2788.9,2205.8 2790.9,2212.6 2792.9,2218.4 2793.0,2218.6 2794.9,2222.0 2796.9,2225.1 2798.9,2228.3 2800.4,2231.2 2800.9,2232.4 2802.9,2239.2 2804.9,2246.7 2806.9,2251.7 2807.7,2252.2 2808.9,2251.8 2810.9,2249.7 2812.9,2246.0 2814.9,2241.0 2816.1,2237.5 2816.9,2233.1 2818.2,2224.9 2818.9,2222.7 2820.9,2217.4 2822.9,2214.6 2823.5,2214.4 2824.9,2215.2 2826.9,2218.3 2828.9,2222.8 2829.8,2224.9 2830.9,2228.4 2832.9,2237.1 2834.9,2243.6 2835.0,2243.8 2836.9,2246.6 2838.9,2249.2 2840.9,2251.5 2842.9,2253.4 2844.9,2254.9 2846.9,2255.9 2848.9,2256.4 2849.7,2256.4 2850.9,2255.9 2852.9,2253.2 2854.9,2249.1 2856.9,2244.5 2858.2,2241.7 2858.9,2240.2 2860.9,2235.0 2862.9,2229.9 2864.5,2226.9 2864.9,2226.3 2866.9,2223.5 2868.9,2221.0 2870.9,2219.3 2872.9,2218.6 2874.9,2222.7 2876.9,2232.1 2878.9,2242.4 2879.2,2243.8 2880.9,2253.7 2882.3,2258.5 2882.9,2258.3 2884.9,2255.9 2886.9,2251.5 2888.9,2246.0 2889.7,2243.8 2890.9,2239.0 2892.9,2228.4 2894.9,2222.8 2896.9,2224.0 2898.9,2226.8 2900.9,2230.5 2902.9,2234.1 2904.9,2236.7 2906.5,2237.5 2906.9,2237.4 2908.9,2233.4 2910.9,2227.2 2912.8,2222.8 2912.9,2222.7 2914.9,2220.3 2916.9,2218.4 2918.9,2217.5 2919.1,2217.5 2920.9,2220.0 2922.9,2226.8 2924.9,2235.4 2925.4,2237.5 2926.9,2246.2 2928.9,2261.1 2930.9,2272.0 2931.7,2273.2 2932.9,2271.5 2934.9,2263.0 2936.9,2251.6 2938.9,2242.2 2940.1,2239.6 2940.9,2238.9 2942.9,2237.4 2944.9,2236.3 2946.9,2235.6 2948.5,2235.4 2948.9,2235.5 2950.9,2238.2 2952.9,2243.2 2954.8,2248.0 2954.9,2248.2 2956.9,2253.6 2958.9,2259.6 2960.9,2265.1 2962.9,2268.7 2963.2,2269.0 2964.9,2270.2 2966.9,2271.1 2968.9,2271.8 2970.9,2272.8 2971.6,2273.2 2972.9,2274.5 2974.9,2276.7 2976.0,2277.2 2976.9,2276.8 2978.9,2273.5 2980.8,2269.2 2980.9,2269.0 2982.9,2262.0 2984.9,2254.7 2985.5,2253.3 2986.9,2250.9 2988.9,2247.9 2990.9,2245.7 2992.9,2244.6 2993.5,2244.5 2994.9,2245.1 2996.9,2247.7 2998.9,2251.7 3000.9,2256.6 3001.5,2258.1 3002.9,2263.5 3004.7,2270.8 3004.9,2271.3 3006.9,2276.0 3008.9,2280.0 3010.9,2282.7 3012.7,2283.6 3012.9,2283.5 3014.9,2271.6 3016.7,2259.7 3016.9,2259.1 3018.9,2253.2 3020.9,2248.4 3022.9,2245.7 3023.9,2245.3 3024.9,2245.6 3026.9,2247.9 3028.9,2251.1 3030.3,2253.3 3030.9,2254.2 3032.9,2258.1 3034.9,2261.6 3036.6,2262.9 3036.9,2262.9 3038.9,2261.5 3040.9,2259.3 3042.9,2258.1 3043.0,2258.1 3044.9,2258.3 3046.9,2258.7 3048.9,2259.5 3050.9,2260.4 3052.9,2261.6 3054.9,2263.0 3055.8,2263.7 3056.9,2265.2 3058.9,2270.0 3060.9,2274.5 3062.2,2275.6 3062.9,2275.1 3064.9,2268.9 3066.9,2259.8 3068.9,2252.6 3069.4,2251.7 3070.9,2249.7 3072.9,2247.3 3074.9,2245.8 3076.6,2245.3 3076.9,2245.4 3078.9,2250.3 3079.8,2253.3 3080.9,2257.5 3082.9,2267.1 3083.7,2270.8 3084.9,2277.2 3086.9,2287.1 3087.7,2288.4 3088.9,2285.9 3090.9,2275.5 3092.5,2267.7 3092.9,2266.3 3094.9,2258.9 3096.9,2252.7 3098.9,2250.1 3100.9,2251.0 3102.9,2253.4 3104.9,2256.6 3106.9,2259.9 3108.9,2262.7 3110.9,2264.3 3111.7,2264.5 3112.9,2263.9 3114.9,2261.2 3116.9,2257.3 3118.9,2253.7 3120.9,2251.8 3121.3,2251.7 3122.9,2253.4 3124.9,2258.7 3126.9,2265.1 3128.9,2269.8 3130.1,2270.8 3130.9,2270.8 3132.9,2270.8 3134.9,2270.8 3136.9,2270.8 3137.2,2270.8 3138.9,2267.9 3139.6,2266.1 3140.9,2261.1 3142.9,2251.2 3144.4,2247.7 3144.9,2247.8 3146.9,2250.3 3148.9,2255.1 3150.9,2260.9 3151.6,2262.9 3152.9,2268.5 3154.9,2277.8 3155.6,2278.8 3156.9,2278.4 3158.9,2276.3 3160.9,2273.0 3162.9,2269.1 3164.4,2266.1 3164.9,2264.9 3166.9,2258.9 3167.6,2258.1 3168.9,2258.9 3170.9,2262.4 3172.9,2266.9 3174.0,2269.2 3174.9,2271.1 3176.9,2276.3 3178.9,2281.3 3180.9,2284.7 3181.9,2285.2 3182.9,2284.4 3184.9,2279.0 3186.9,2271.6 3188.3,2266.9 3188.9,2265.0 3190.9,2257.7 3192.9,2253.3 3193.1,2253.3 3194.9,2253.6 3196.9,2254.7 3198.9,2256.6 3199.5,2257.3 3200.9,2263.9 3202.7,2275.6 3202.9,2276.4 3204.9,2284.5 3206.9,2289.6 3207.5,2290.0 3208.9,2288.3 3210.9,2281.8 3212.9,2274.5 3214.7,2270.8 3214.9,2270.7 3216.9,2269.4 3218.9,2268.4 3220.9,2267.6 3222.9,2267.1 3224.9,2266.9 3225.0,2266.9 3226.9,2268.6 3228.9,2271.6 3229.8,2272.4 3230.9,2272.9 3232.9,2273.6 3234.9,2274.1 3236.9,2274.5 3238.9,2274.8 3240.9,2275.1 3242.9,2275.5 3244.9,2276.1 3246.9,2276.9 3247.4,2277.2 3248.9,2279.2 3250.9,2284.0 3252.9,2287.9 3253.8,2288.4 3254.9,2288.0 3256.9,2285.9 3258.9,2282.7 3260.9,2279.5 3262.9,2277.4 3263.4,2277.2 3264.9,2276.7 3266.9,2276.2 3268.9,2275.8 3270.9,2275.6 3271.4,2275.6 3272.9,2275.9 3274.9,2277.0 3276.9,2278.8 3278.9,2281.0 3280.9,2283.4 3282.9,2285.7 3284.9,2287.7 3285.7,2288.4 3286.9,2289.4 3288.9,2291.3 3290.9,2292.9 3292.9,2293.9 3293.7,2294.0 3294.9,2293.5 3296.9,2291.0 3298.9,2287.2 3300.9,2283.2 3302.9,2280.1 3304.9,2278.8 3306.9,2278.9 3308.9,2279.2 3310.9,2279.6 3312.9,2280.1 3314.9,2280.7 3316.9,2281.3 3318.9,2281.9 3319.3,2282.0 3320.9,2282.6 3322.9,2283.5 3324.9,2284.4 3326.9,2285.4 3328.9,2286.2 3329.3,2286.3 3330.9,2286.8 3332.9,2287.5 3334.9,2288.1 3336.9,2288.5 3338.7,2288.6 3338.9,2288.6 3340.9,2288.1 3342.9,2286.9 3344.9,2285.3 3346.9,2283.5 3348.9,2281.8 3350.9,2280.4 3352.9,2279.5 3354.2,2279.3 3354.9,2279.4 3356.9,2280.6 3358.9,2282.5 3360.9,2284.2 3362.0,2284.7 3362.9,2284.9 3364.9,2285.5 3366.9,2285.9 3368.9,2286.4 3370.9,2286.7 3372.9,2287.1 3374.9,2287.3 3376.9,2287.6 3378.9,2287.7 3380.9,2287.8 3382.2,2287.8 3382.9,2287.7 3384.9,2286.6 3386.9,2284.5 3388.9,2282.1 3390.9,2279.9 3392.9,2278.2 3394.6,2277.7 3394.9,2277.7 3396.9,2277.7 3398.9,2277.7 3400.8,2277.7 3400.9,2277.7 3402.9,2279.6 3404.9,2283.6 3406.9,2287.3 3408.6,2288.6 3408.9,2288.6 3410.9,2288.5 3412.9,2288.2 3414.9,2287.8 3416.9,2287.3 3418.9,2286.7 3420.9,2286.1 3422.9,2285.5 3424.9,2284.9 3426.9,2284.4 3428.8,2284.0 3428.9,2284.0 3430.9,2283.6 3432.9,2283.2 3434.9,2282.9 3436.9,2282.6 3438.9,2282.4 3439.7,2282.4 3440.9,2282.6 3442.9,2283.5 3444.9,2285.1 3446.9,2287.1 3448.9,2289.3 3450.9,2291.4 3452.9,2293.2 3454.9,2294.4 3456.8,2294.8 3456.9,2294.8 3458.9,2293.3 3460.9,2290.0 3462.9,2286.3 3464.9,2283.3 3466.1,2282.4 3466.9,2282.1 3468.9,2281.5 3470.9,2281.1 3472.9,2280.8 3473.9,2280.8 3474.9,2280.9 3476.9,2281.7 3478.9,2282.8 3480.9,2283.9 3482.9,2284.6 3483.2,2284.7 3484.9,2284.9 3486.9,2285.1 3488.9,2285.2 3490.9,2285.3 3492.6,2285.5 3492.9,2285.5 3494.9,2285.9 3496.9,2286.3 3498.9,2286.9 3500.9,2287.4 3502.9,2287.9 3504.9,2288.3 3506.9,2288.6 3508.1,2288.6 3508.9,2288.5 3510.9,2287.7 3512.9,2286.3 3514.9,2284.6 3516.9,2283.1 3518.9,2282.0 3520.6,2281.6 3520.9,2281.6 3522.9,2282.1 3524.9,2283.3 3526.9,2284.9 3528.9,2286.8 3530.9,2288.7 3532.9,2290.4 3534.9,2291.7 3536.9,2292.4 3537.7,2292.5 3538.9,2292.2 3540.9,2290.6 3542.9,2288.1 3544.9,2285.2 3546.9,2282.7 3548.9,2281.1 3550.1,2280.8 3550.9,2280.8 3552.9,2280.8 3554.9,2280.8 3556.9,2280.8 3558.9,2280.8 3559.4,2280.8 3560.9,2281.1 3562.9,2282.3 3564.9,2284.1 3566.9,2286.3 3568.9,2288.5 3570.9,2290.5 3572.9,2291.9 3574.9,2292.5 3575.0,2292.5 3576.9,2292.0 3578.9,2290.6 3580.9,2288.6 3582.9,2286.5 3584.9,2284.5 3586.9,2283.0 3588.9,2282.4 3589.0,2282.4 3590.9,2282.6 3592.9,2283.1 3594.9,2283.7 3596.9,2284.3 3598.3,2284.7 3598.9,2284.8 3600.9,2285.3 3602.9,2285.8 3604.9,2286.3 3606.9,2286.7 3608.9,2287.1 3610.9,2287.5 3612.9,2287.7 3614.9,2287.8 3615.4,2287.8 3616.9,2287.8 3618.9,2287.8 3620.9,2287.7 3622.9,2287.6 3624.9,2287.5 3626.9,2287.3 3628.9,2287.1 3629.4,2287.1 3630.9,2286.7 3632.9,2285.7 3634.9,2284.5 3636.9,2283.6 3638.7,2283.2 3638.9,2283.2 3640.9,2283.5 3642.9,2284.1 3644.9,2285.0 3646.9,2286.0 3648.9,2287.2 3650.9,2288.3 3652.9,2289.3 3654.9,2290.2 3656.9,2290.8 3658.9,2291.0 3660.9,2290.9 3662.9,2290.6 3664.9,2290.1 3666.9,2289.4 3668.9,2288.5 3670.9,2287.5 3672.9,2286.3 3673.4,2286.0" fill="none" stroke="#437cab" stroke-width="4.6" stroke-dasharray="36.5 14 10 15.5" stroke-linejoin="round"/></g>
<text x="2610.28" y="2370.3" font-size="67" text-anchor="middle">50</text>
<text x="2964.65" y="2370.3" font-size="67" text-anchor="middle">100</text>
<text x="3319.03" y="2370.3" font-size="67" text-anchor="middle">150</text>
<text x="3673.40" y="2370.3" font-size="67" text-anchor="middle">200</text>
<text x="2232.40" y="2317.40" font-size="67" text-anchor="end">0</text>
<text x="2232.40" y="2119.02" font-size="67" text-anchor="end">0.4</text>
<text x="2232.40" y="1920.64" font-size="67" text-anchor="end">0.8</text>
<text x="2232.40" y="1722.26" font-size="67" text-anchor="end">1.2</text>
<text x="2232.40" y="1523.88" font-size="67" text-anchor="end">1.6</text>
<text x="2232.40" y="1325.50" font-size="67" text-anchor="end">2.0</text>
<text x="2964.65" y="2468.1" font-size="67" text-anchor="middle">Time/ms</text>
<text transform="translate(2085.30,1801.45) rotate(-90)" font-size="67" text-anchor="middle"><tspan font-style="italic">v</tspan><tspan font-size="39" dy="15" >r</tspan><tspan dy="-15">/(cm·s</tspan><tspan font-size="38" dy="-22.6">−1</tspan><tspan dy="22.6">)</tspan></text>
<text x="2286.9" y="1383.20" font-size="67">(d)</text>
<path d="M2852.3,1359.7H3033.5" stroke="#ee7d3a" stroke-width="4.8" stroke-dasharray="22.3 17.2"/>
<path d="M2857.7,1450.4H3033.5" stroke="#437cab" stroke-width="4.6" stroke-dasharray="30.4 16.8 5.4 17.2"/>
<text x="3057.4" y="1383.2" font-size="67">Numerical simulation</text>
<text x="3057.4" y="1472.7" font-size="67">Field test</text>
</svg></body></html>
